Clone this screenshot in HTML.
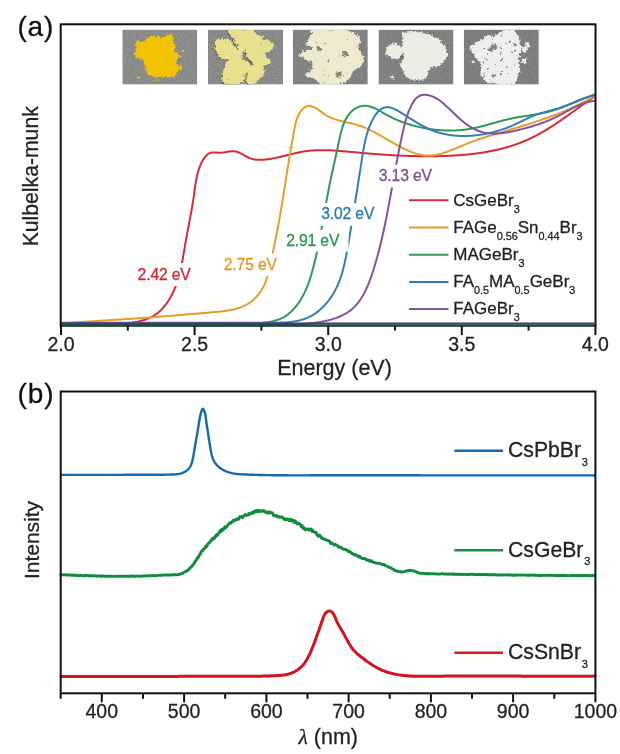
<!DOCTYPE html>
<html><head><meta charset="utf-8"><style>
html,body{margin:0;padding:0;background:#fff;width:620px;height:754px;overflow:hidden}
svg{display:block;filter:blur(0.35px)}
</style></head><body>
<svg width="620" height="754" viewBox="0 0 620 754">
<g style="font-family:'Liberation Sans',Arial,sans-serif">
<defs><filter id="bl0" x="-10%" y="-10%" width="120%" height="120%"><feTurbulence type="fractalNoise" baseFrequency="0.45" numOctaves="2" seed="3" result="n"/><feDisplacementMap in="SourceGraphic" in2="n" scale="4.5" xChannelSelector="R" yChannelSelector="G" result="d"/><feTurbulence type="fractalNoise" baseFrequency="0.22" numOctaves="3" seed="0" result="h"/><feColorMatrix in="h" type="matrix" values="0 0 0 0 0  0 0 0 0 0  0 0 0 0 0  14.0 0 0 0 -0.000" result="m"/><feComposite in="d" in2="m" operator="in" result="c"/><feTurbulence type="fractalNoise" baseFrequency="0.9" numOctaves="1" seed="20" result="t"/><feColorMatrix in="t" type="matrix" values="0 0 0 0 0  0 0 0 0 0  0 0 0 0 0  0 0 0 -0.9 0.55" result="tm"/><feComposite in="tm" in2="c" operator="in" result="tx"/><feFlood flood-color="#000" flood-opacity="0.12"/><feComposite in2="tx" operator="in" result="dark"/><feMerge><feMergeNode in="c"/><feMergeNode in="dark"/></feMerge></filter><filter id="bl1" x="-10%" y="-10%" width="120%" height="120%"><feTurbulence type="fractalNoise" baseFrequency="0.45" numOctaves="2" seed="4" result="n"/><feDisplacementMap in="SourceGraphic" in2="n" scale="4.5" xChannelSelector="R" yChannelSelector="G" result="d"/><feTurbulence type="fractalNoise" baseFrequency="0.22" numOctaves="3" seed="11" result="h"/><feColorMatrix in="h" type="matrix" values="0 0 0 0 0  0 0 0 0 0  0 0 0 0 0  14.0 0 0 0 -1.680" result="m"/><feComposite in="d" in2="m" operator="in" result="c"/><feTurbulence type="fractalNoise" baseFrequency="0.9" numOctaves="1" seed="21" result="t"/><feColorMatrix in="t" type="matrix" values="0 0 0 0 0  0 0 0 0 0  0 0 0 0 0  0 0 0 -0.9 0.55" result="tm"/><feComposite in="tm" in2="c" operator="in" result="tx"/><feFlood flood-color="#000" flood-opacity="0.12"/><feComposite in2="tx" operator="in" result="dark"/><feMerge><feMergeNode in="c"/><feMergeNode in="dark"/></feMerge></filter><filter id="bl2" x="-10%" y="-10%" width="120%" height="120%"><feTurbulence type="fractalNoise" baseFrequency="0.45" numOctaves="2" seed="5" result="n"/><feDisplacementMap in="SourceGraphic" in2="n" scale="4.5" xChannelSelector="R" yChannelSelector="G" result="d"/><feTurbulence type="fractalNoise" baseFrequency="0.22" numOctaves="3" seed="12" result="h"/><feColorMatrix in="h" type="matrix" values="0 0 0 0 0  0 0 0 0 0  0 0 0 0 0  14.0 0 0 0 -2.240" result="m"/><feComposite in="d" in2="m" operator="in" result="c"/><feTurbulence type="fractalNoise" baseFrequency="0.9" numOctaves="1" seed="22" result="t"/><feColorMatrix in="t" type="matrix" values="0 0 0 0 0  0 0 0 0 0  0 0 0 0 0  0 0 0 -0.9 0.55" result="tm"/><feComposite in="tm" in2="c" operator="in" result="tx"/><feFlood flood-color="#000" flood-opacity="0.12"/><feComposite in2="tx" operator="in" result="dark"/><feMerge><feMergeNode in="c"/><feMergeNode in="dark"/></feMerge></filter><filter id="bl3" x="-10%" y="-10%" width="120%" height="120%"><feTurbulence type="fractalNoise" baseFrequency="0.45" numOctaves="2" seed="6" result="n"/><feDisplacementMap in="SourceGraphic" in2="n" scale="4.5" xChannelSelector="R" yChannelSelector="G" result="d"/><feTurbulence type="fractalNoise" baseFrequency="0.22" numOctaves="3" seed="13" result="h"/><feColorMatrix in="h" type="matrix" values="0 0 0 0 0  0 0 0 0 0  0 0 0 0 0  14.0 0 0 0 -1.400" result="m"/><feComposite in="d" in2="m" operator="in" result="c"/><feTurbulence type="fractalNoise" baseFrequency="0.9" numOctaves="1" seed="23" result="t"/><feColorMatrix in="t" type="matrix" values="0 0 0 0 0  0 0 0 0 0  0 0 0 0 0  0 0 0 -0.9 0.55" result="tm"/><feComposite in="tm" in2="c" operator="in" result="tx"/><feFlood flood-color="#000" flood-opacity="0.12"/><feComposite in2="tx" operator="in" result="dark"/><feMerge><feMergeNode in="c"/><feMergeNode in="dark"/></feMerge></filter><filter id="bl4" x="-10%" y="-10%" width="120%" height="120%"><feTurbulence type="fractalNoise" baseFrequency="0.45" numOctaves="2" seed="7" result="n"/><feDisplacementMap in="SourceGraphic" in2="n" scale="4.5" xChannelSelector="R" yChannelSelector="G" result="d"/><feTurbulence type="fractalNoise" baseFrequency="0.22" numOctaves="3" seed="14" result="h"/><feColorMatrix in="h" type="matrix" values="0 0 0 0 0  0 0 0 0 0  0 0 0 0 0  14.0 0 0 0 -3.080" result="m"/><feComposite in="d" in2="m" operator="in" result="c"/><feTurbulence type="fractalNoise" baseFrequency="0.9" numOctaves="1" seed="24" result="t"/><feColorMatrix in="t" type="matrix" values="0 0 0 0 0  0 0 0 0 0  0 0 0 0 0  0 0 0 -0.9 0.55" result="tm"/><feComposite in="tm" in2="c" operator="in" result="tx"/><feFlood flood-color="#000" flood-opacity="0.12"/><feComposite in2="tx" operator="in" result="dark"/><feMerge><feMergeNode in="c"/><feMergeNode in="dark"/></feMerge></filter><filter id="gr" x="0" y="0" width="100%" height="100%"><feTurbulence type="fractalNoise" baseFrequency="0.55" numOctaves="2" seed="7"/><feColorMatrix type="matrix" values="0 0 0 0 0  0 0 0 0 0  0 0 0 0 0  0 0 0 -1.6 1.0"/><feComposite in2="SourceGraphic" operator="in"/></filter></defs>
<clipPath id="cp0"><rect x="122.3" y="29.6" width="75" height="55"/></clipPath><g clip-path="url(#cp0)">
<rect x="122.3" y="29.6" width="75" height="55" fill="#909090"/>
<rect x="122.3" y="29.6" width="75" height="55" fill="#000" filter="url(#gr)" opacity="0.16"/>
<g filter="url(#bl0)"><path d="M146.2,38.7 C147.4,38.3 150.8,36.5 153.5,36.3 C156.1,36.1 159.9,37.6 161.9,37.5 C163.9,37.4 163.9,36.2 165.5,35.7 C167.2,35.1 170.4,33.9 171.6,34.4 C172.8,34.9 172.4,37.4 172.8,38.7 C173.2,40.0 173.6,40.9 174.0,42.3 C174.4,43.7 175.2,45.7 175.2,47.1 C175.2,48.6 173.8,49.8 174.0,50.8 C174.2,51.8 175.6,52.4 176.4,53.2 C177.2,54.0 178.7,54.6 178.9,55.6 C179.1,56.6 178.0,58.0 177.6,59.2 C177.2,60.5 176.2,61.7 176.4,62.9 C176.6,64.1 178.0,65.7 178.9,66.5 C179.7,67.3 181.3,67.1 181.3,67.7 C181.3,68.3 179.7,69.1 178.9,70.1 C178.0,71.1 177.2,72.7 176.4,73.8 C175.6,74.8 175.4,75.6 174.0,76.2 C172.6,76.8 170.0,77.3 168.0,77.4 C165.9,77.5 163.9,76.8 161.9,76.8 C159.9,76.8 157.7,77.5 155.9,77.4 C154.1,77.3 152.4,76.8 151.0,76.2 C149.6,75.6 148.2,74.8 147.4,73.8 C146.6,72.7 146.6,71.3 146.2,70.1 C145.8,68.9 145.4,67.7 145.0,66.5 C144.6,65.3 144.4,64.1 143.8,62.9 C143.2,61.7 142.4,60.0 141.4,59.2 C140.3,58.4 138.7,58.5 137.7,58.0 C136.7,57.5 135.8,57.2 135.3,56.2 C134.8,55.2 134.5,53.5 134.7,52.0 C134.9,50.5 136.3,48.6 136.5,47.1 C136.7,45.7 135.7,44.5 135.9,43.5 C136.1,42.5 136.8,41.3 137.7,41.1 C138.6,40.9 140.1,42.5 141.4,42.3 C142.6,42.1 144.2,40.5 145.0,39.9 C145.8,39.3 146.0,38.9 146.2,38.7 Z" fill="#f4c40c"/><path d="M181.9,49.6 C182.2,49.8 183.6,50.3 183.7,50.8 C183.8,51.2 182.9,52.2 182.5,52.2 C182.0,52.3 181.1,51.6 181.0,51.1 C180.9,50.7 181.7,49.8 181.9,49.6 Z" fill="#f4c40c"/><path d="M178.9,55.0 C179.2,55.1 180.5,55.4 180.7,55.9 C180.8,56.3 180.2,57.4 179.8,57.5 C179.4,57.7 178.4,57.0 178.2,56.6 C178.1,56.2 178.8,55.3 178.9,55.0 Z" fill="#f4c40c"/><path d="M137.7,76.4 C138.1,76.5 139.8,76.7 140.1,77.1 C140.4,77.5 140.0,78.7 139.5,78.8 C139.1,79.0 137.8,78.4 137.5,78.0 C137.2,77.6 137.7,76.7 137.7,76.4 Z" fill="#f4c40c"/><path d="M155.9,79.2 C156.3,79.3 157.9,79.2 158.3,79.6 C158.7,79.9 158.5,81.0 158.0,81.3 C157.6,81.5 156.0,81.4 155.6,81.0 C155.3,80.7 155.8,79.5 155.9,79.2 Z" fill="#f4c40c"/><path d="M179.8,65.3 C180.2,65.5 182.0,65.7 182.2,66.3 C182.5,66.9 181.8,68.6 181.3,68.9 C180.7,69.2 179.3,68.6 179.1,68.0 C178.9,67.3 179.7,65.7 179.8,65.3 Z" fill="#f4c40c"/>
</g></g>
<clipPath id="cp1"><rect x="208.0" y="29.6" width="75" height="55"/></clipPath><g clip-path="url(#cp1)">
<rect x="208.0" y="29.6" width="75" height="55" fill="#8e8e8e"/>
<rect x="208.0" y="29.6" width="75" height="55" fill="#000" filter="url(#gr)" opacity="0.16"/>
<g filter="url(#bl1)" opacity="0.75"><path d="M215.4,40.1 C216.5,39.8 220.0,38.8 222.3,38.7 C224.6,38.6 227.6,38.7 229.2,39.4 C230.8,40.1 230.8,41.3 232.0,42.8 C233.1,44.3 234.8,46.8 236.1,48.4 C237.5,50.0 239.4,50.9 240.3,52.5 C241.2,54.2 242.2,56.7 241.7,58.1 C241.2,59.5 239.2,60.4 237.5,60.9 C235.9,61.3 234.1,61.1 232.0,60.9 C229.9,60.6 227.1,60.2 225.1,59.5 C223.0,58.8 221.0,58.1 219.5,56.7 C218.0,55.3 216.9,53.0 216.1,51.2 C215.3,49.3 214.8,47.5 214.7,45.6 C214.6,43.8 215.3,41.0 215.4,40.1 Z" fill="#5e5a4c" transform="translate(-0.8,0.9)"/><path d="M227.7,29.7 C229.0,29.6 232.9,28.9 235.3,29.0 C237.7,29.1 240.4,30.4 242.2,30.4 C244.1,30.4 244.5,29.0 246.4,29.0 C248.2,29.0 251.5,29.5 253.3,30.4 C255.2,31.3 255.9,33.4 257.5,34.6 C259.1,35.7 262.3,36.2 263.0,37.3 C263.7,38.5 262.5,40.6 261.6,41.5 C260.7,42.4 259.1,42.2 257.5,42.9 C255.9,43.6 253.8,44.7 251.9,45.6 C250.1,46.6 247.8,47.3 246.4,48.4 C245.0,49.6 244.5,51.4 243.6,52.6 C242.7,53.7 241.8,56.0 240.8,55.3 C239.9,54.6 239.0,50.5 238.1,48.4 C237.2,46.3 236.0,44.5 235.3,42.9 C234.6,41.3 234.8,40.1 233.9,38.7 C233.0,37.3 230.8,36.1 229.8,34.6 C228.7,33.1 228.0,30.5 227.7,29.7 Z" fill="#5e5a4c" transform="translate(-0.8,0.9)"/><path d="M248.4,43.8 C250.0,43.4 255.1,41.8 258.1,41.1 C261.1,40.4 264.1,39.5 266.4,39.7 C268.7,39.9 270.6,41.5 271.9,42.5 C273.3,43.4 274.9,43.8 274.7,45.2 C274.5,46.6 272.2,49.4 270.6,50.8 C268.9,52.2 265.7,52.4 265.0,53.5 C264.3,54.7 265.5,56.5 266.4,57.7 C267.3,58.8 270.1,59.3 270.6,60.5 C271.0,61.6 270.6,63.7 269.2,64.6 C267.8,65.5 264.6,65.8 262.2,66.0 C259.9,66.2 257.2,66.7 255.3,66.0 C253.5,65.3 252.5,63.5 251.2,61.8 C249.8,60.2 247.9,58.2 247.0,56.3 C246.1,54.5 245.4,52.8 245.6,50.8 C245.9,48.7 247.9,45.0 248.4,43.8 Z" fill="#5e5a4c" transform="translate(-0.8,0.9)"/><path d="M225.5,62.3 C226.4,61.9 228.7,60.2 231.0,59.5 C233.3,58.9 236.8,57.9 239.3,58.2 C241.9,58.4 244.4,59.8 246.2,60.9 C248.1,62.1 249.9,63.5 250.4,65.1 C250.9,66.7 249.9,69.0 249.0,70.6 C248.1,72.2 245.8,72.9 244.9,74.8 C243.9,76.6 244.9,80.1 243.5,81.7 C242.1,83.3 239.3,84.0 236.5,84.5 C233.8,84.9 229.4,85.2 226.8,84.5 C224.3,83.8 222.0,82.2 221.3,80.3 C220.6,78.5 222.2,75.5 222.7,73.4 C223.2,71.3 223.6,69.7 224.1,67.9 C224.5,66.0 225.2,63.2 225.5,62.3 Z" fill="#5e5a4c" transform="translate(-0.8,0.9)"/><path d="M249.2,67.5 C250.4,66.8 254.1,63.8 256.2,63.3 C258.3,62.8 260.3,63.5 261.7,64.7 C263.1,65.8 264.3,68.4 264.5,70.2 C264.7,72.1 264.0,74.2 263.1,75.8 C262.2,77.4 260.6,78.5 258.9,79.9 C257.3,81.3 255.3,83.4 253.4,84.1 C251.6,84.8 249.0,85.0 247.9,84.1 C246.7,83.2 246.5,80.4 246.5,78.5 C246.5,76.7 247.4,74.8 247.9,73.0 C248.3,71.2 249.0,68.4 249.2,67.5 Z" fill="#5e5a4c" transform="translate(-0.8,0.9)"/></g>
<g filter="url(#bl1)"><path d="M215.4,40.1 C216.5,39.8 220.0,38.8 222.3,38.7 C224.6,38.6 227.6,38.7 229.2,39.4 C230.8,40.1 230.8,41.3 232.0,42.8 C233.1,44.3 234.8,46.8 236.1,48.4 C237.5,50.0 239.4,50.9 240.3,52.5 C241.2,54.2 242.2,56.7 241.7,58.1 C241.2,59.5 239.2,60.4 237.5,60.9 C235.9,61.3 234.1,61.1 232.0,60.9 C229.9,60.6 227.1,60.2 225.1,59.5 C223.0,58.8 221.0,58.1 219.5,56.7 C218.0,55.3 216.9,53.0 216.1,51.2 C215.3,49.3 214.8,47.5 214.7,45.6 C214.6,43.8 215.3,41.0 215.4,40.1 Z" fill="#e9e28e"/><path d="M227.7,29.7 C229.0,29.6 232.9,28.9 235.3,29.0 C237.7,29.1 240.4,30.4 242.2,30.4 C244.1,30.4 244.5,29.0 246.4,29.0 C248.2,29.0 251.5,29.5 253.3,30.4 C255.2,31.3 255.9,33.4 257.5,34.6 C259.1,35.7 262.3,36.2 263.0,37.3 C263.7,38.5 262.5,40.6 261.6,41.5 C260.7,42.4 259.1,42.2 257.5,42.9 C255.9,43.6 253.8,44.7 251.9,45.6 C250.1,46.6 247.8,47.3 246.4,48.4 C245.0,49.6 244.5,51.4 243.6,52.6 C242.7,53.7 241.8,56.0 240.8,55.3 C239.9,54.6 239.0,50.5 238.1,48.4 C237.2,46.3 236.0,44.5 235.3,42.9 C234.6,41.3 234.8,40.1 233.9,38.7 C233.0,37.3 230.8,36.1 229.8,34.6 C228.7,33.1 228.0,30.5 227.7,29.7 Z" fill="#e9e28e"/><path d="M248.4,43.8 C250.0,43.4 255.1,41.8 258.1,41.1 C261.1,40.4 264.1,39.5 266.4,39.7 C268.7,39.9 270.6,41.5 271.9,42.5 C273.3,43.4 274.9,43.8 274.7,45.2 C274.5,46.6 272.2,49.4 270.6,50.8 C268.9,52.2 265.7,52.4 265.0,53.5 C264.3,54.7 265.5,56.5 266.4,57.7 C267.3,58.8 270.1,59.3 270.6,60.5 C271.0,61.6 270.6,63.7 269.2,64.6 C267.8,65.5 264.6,65.8 262.2,66.0 C259.9,66.2 257.2,66.7 255.3,66.0 C253.5,65.3 252.5,63.5 251.2,61.8 C249.8,60.2 247.9,58.2 247.0,56.3 C246.1,54.5 245.4,52.8 245.6,50.8 C245.9,48.7 247.9,45.0 248.4,43.8 Z" fill="#e9e28e"/><path d="M225.5,62.3 C226.4,61.9 228.7,60.2 231.0,59.5 C233.3,58.9 236.8,57.9 239.3,58.2 C241.9,58.4 244.4,59.8 246.2,60.9 C248.1,62.1 249.9,63.5 250.4,65.1 C250.9,66.7 249.9,69.0 249.0,70.6 C248.1,72.2 245.8,72.9 244.9,74.8 C243.9,76.6 244.9,80.1 243.5,81.7 C242.1,83.3 239.3,84.0 236.5,84.5 C233.8,84.9 229.4,85.2 226.8,84.5 C224.3,83.8 222.0,82.2 221.3,80.3 C220.6,78.5 222.2,75.5 222.7,73.4 C223.2,71.3 223.6,69.7 224.1,67.9 C224.5,66.0 225.2,63.2 225.5,62.3 Z" fill="#e9e28e"/><path d="M249.2,67.5 C250.4,66.8 254.1,63.8 256.2,63.3 C258.3,62.8 260.3,63.5 261.7,64.7 C263.1,65.8 264.3,68.4 264.5,70.2 C264.7,72.1 264.0,74.2 263.1,75.8 C262.2,77.4 260.6,78.5 258.9,79.9 C257.3,81.3 255.3,83.4 253.4,84.1 C251.6,84.8 249.0,85.0 247.9,84.1 C246.7,83.2 246.5,80.4 246.5,78.5 C246.5,76.7 247.4,74.8 247.9,73.0 C248.3,71.2 249.0,68.4 249.2,67.5 Z" fill="#e9e28e"/>
</g></g>
<clipPath id="cp2"><rect x="292.8" y="29.6" width="75" height="55"/></clipPath><g clip-path="url(#cp2)">
<rect x="292.8" y="29.6" width="75" height="55" fill="#878787"/>
<rect x="292.8" y="29.6" width="75" height="55" fill="#000" filter="url(#gr)" opacity="0.16"/>
<g filter="url(#bl2)"><path d="M310.6,30.2 C312.7,30.0 319.3,29.0 323.0,29.0 C326.8,29.0 330.3,30.2 333.0,30.2 C335.7,30.2 336.9,29.0 339.2,29.0 C341.5,29.0 344.2,29.6 346.6,30.2 C349.1,30.9 352.0,31.7 354.1,32.7 C356.2,33.8 358.0,35.0 359.1,36.5 C360.1,37.9 360.5,39.8 360.3,41.4 C360.1,43.1 358.0,44.9 357.8,46.4 C357.6,47.8 358.4,48.9 359.1,50.1 C359.7,51.4 360.7,52.4 361.5,53.8 C362.4,55.3 363.8,57.2 364.0,58.8 C364.2,60.5 363.6,62.3 362.8,63.8 C362.0,65.2 360.5,66.5 359.1,67.5 C357.6,68.5 355.3,68.7 354.1,70.0 C352.9,71.2 352.6,73.3 351.6,75.0 C350.6,76.6 349.5,78.5 347.9,79.9 C346.2,81.4 344.2,82.8 341.7,83.6 C339.2,84.5 335.9,84.7 333.0,84.9 C330.1,85.1 326.8,85.3 324.3,84.9 C321.8,84.5 319.7,83.4 318.1,82.4 C316.4,81.4 316.0,79.5 314.4,78.7 C312.7,77.8 309.6,78.1 308.1,77.4 C306.7,76.8 305.5,76.0 305.7,75.0 C305.9,73.9 308.1,72.3 309.4,71.2 C310.6,70.2 312.7,69.8 313.1,68.7 C313.5,67.7 312.7,66.3 311.9,65.0 C311.0,63.8 309.6,62.5 308.1,61.3 C306.7,60.0 304.8,58.5 303.2,57.6 C301.5,56.6 298.6,56.5 298.2,55.7 C297.8,54.9 299.2,53.5 300.7,52.6 C302.1,51.7 305.0,50.7 306.9,50.1 C308.8,49.5 311.2,49.5 311.9,48.9 C312.5,48.2 311.7,47.0 310.6,46.4 C309.6,45.8 306.3,46.0 305.7,45.1 C305.0,44.3 306.3,42.7 306.9,41.4 C307.5,40.2 308.8,38.9 309.4,37.7 C310.0,36.5 310.4,35.2 310.6,34.0 C310.8,32.7 310.6,30.9 310.6,30.2 Z" fill="#eeebd0"/>
<path d="M315.6,47.6 C316.1,47.5 317.7,46.8 318.7,47.0 C319.7,47.2 321.4,48.2 321.8,48.9 C322.2,49.5 321.9,50.5 321.2,50.7 C320.5,51.0 318.4,50.9 317.5,50.4 C316.5,49.8 315.9,48.1 315.6,47.6 Z" fill="#6e6c62" opacity="0.8"/>
<path d="M341.7,51.4 C342.3,51.3 344.2,50.6 345.4,51.1 C346.6,51.6 348.6,53.5 349.1,54.5 C349.6,55.4 349.2,56.4 348.5,56.6 C347.8,56.8 345.9,56.6 344.8,55.7 C343.6,54.8 342.2,52.1 341.7,51.4 Z" fill="#6e6c62" opacity="0.8"/>
<path d="M335.5,73.7 C336.0,73.4 337.5,72.1 338.6,71.8 C339.6,71.6 341.4,71.6 341.7,72.5 C342.0,73.3 341.3,76.0 340.4,76.8 C339.6,77.6 337.5,78.0 336.7,77.4 C335.9,76.9 335.7,74.3 335.5,73.7 Z" fill="#6e6c62" opacity="0.8"/>
<path d="M309.4,60.0 C309.8,60.3 311.4,60.7 311.9,61.5 C312.4,62.4 312.7,64.5 312.5,65.0 C312.3,65.5 311.1,65.2 310.6,64.4 C310.1,63.6 309.6,60.8 309.4,60.0 Z" fill="#6e6c62" opacity="0.8"/>
</g></g>
<clipPath id="cp3"><rect x="378.5" y="29.6" width="75" height="55"/></clipPath><g clip-path="url(#cp3)">
<rect x="378.5" y="29.6" width="75" height="55" fill="#868686"/>
<rect x="378.5" y="29.6" width="75" height="55" fill="#000" filter="url(#gr)" opacity="0.16"/>
<g filter="url(#bl3)"><path d="M402.8,32.7 C404.1,32.6 407.8,32.3 410.3,32.1 C412.8,31.9 415.7,31.4 417.7,31.5 C419.8,31.6 421.1,32.3 422.7,32.7 C424.4,33.1 425.8,33.3 427.7,34.0 C429.5,34.6 431.8,35.4 433.9,36.5 C436.0,37.5 438.4,38.7 440.1,40.2 C441.8,41.6 442.8,43.5 443.8,45.1 C444.9,46.8 445.7,48.5 446.3,50.1 C446.9,51.8 447.8,53.4 447.5,55.1 C447.3,56.7 446.1,58.6 445.1,60.0 C444.0,61.5 442.6,62.7 441.3,63.8 C440.1,64.8 439.1,65.6 437.6,66.3 C436.2,66.9 434.1,66.9 432.6,67.5 C431.2,68.1 429.7,68.7 428.9,70.0 C428.1,71.2 428.3,73.5 427.7,75.0 C427.1,76.4 426.4,77.8 425.2,78.7 C424.0,79.5 422.1,79.7 420.2,79.9 C418.4,80.1 415.9,80.1 414.0,79.9 C412.2,79.7 410.5,79.5 409.0,78.7 C407.6,77.8 406.4,76.4 405.3,75.0 C404.3,73.5 403.7,71.6 402.8,70.0 C402.0,68.3 400.6,66.5 400.4,65.0 C400.1,63.6 401.0,62.5 401.6,61.3 C402.2,60.0 403.9,59.0 404.1,57.6 C404.3,56.1 403.3,54.3 402.8,52.6 C402.4,50.9 401.6,49.5 401.6,47.6 C401.6,45.8 402.7,43.3 402.8,41.4 C402.9,39.6 402.2,37.9 402.2,36.5 C402.2,35.0 402.7,33.3 402.8,32.7 Z" fill="#efeee6"/><path d="M385.5,50.1 C385.9,49.5 386.9,47.4 387.9,46.4 C389.0,45.4 390.2,44.3 391.7,43.9 C393.1,43.5 395.2,43.5 396.6,43.9 C398.1,44.3 399.3,45.4 400.4,46.4 C401.4,47.4 402.6,48.7 402.8,50.1 C403.0,51.6 402.2,53.6 401.6,55.1 C401.0,56.5 400.4,58.2 399.1,58.8 C397.9,59.4 395.8,59.2 394.1,58.8 C392.5,58.4 390.6,57.2 389.2,56.3 C387.7,55.5 386.1,54.9 385.5,53.8 C384.8,52.8 385.5,50.7 385.5,50.1 Z" fill="#efeee6"/><path d="M390.4,75.9 C390.9,76.1 392.9,76.4 393.5,76.8 C394.1,77.3 394.6,78.5 394.1,78.7 C393.7,78.9 391.7,78.5 391.0,78.1 C390.4,77.6 390.5,76.3 390.4,75.9 Z" fill="#efeee6"/>
<path d="M401.0,53.8 C401.3,53.9 402.6,53.7 402.8,54.5 C403.1,55.2 402.9,57.7 402.6,58.2 C402.3,58.7 401.2,58.3 401.0,57.6 C400.7,56.8 401.0,54.5 401.0,53.8 Z" fill="#6e6c62" opacity="0.8"/>
</g></g>
<clipPath id="cp4"><rect x="463.8" y="29.6" width="75" height="55"/></clipPath><g clip-path="url(#cp4)">
<rect x="463.8" y="29.6" width="75" height="55" fill="#838383"/>
<rect x="463.8" y="29.6" width="75" height="55" fill="#000" filter="url(#gr)" opacity="0.16"/>
<g filter="url(#bl4)"><path d="M469.2,46.4 C470.2,45.8 473.6,43.7 475.4,42.7 C477.3,41.6 478.3,41.4 480.4,40.2 C482.5,38.9 485.8,35.8 487.8,35.2 C489.9,34.6 490.9,36.9 492.8,36.5 C494.7,36.0 497.2,33.8 499.0,32.7 C500.9,31.7 501.7,30.8 504.0,30.2 C506.3,29.7 510.6,29.2 512.7,29.6 C514.7,30.0 515.4,31.4 516.4,32.7 C517.4,34.1 518.3,36.0 518.9,37.7 C519.5,39.3 519.7,41.0 520.1,42.7 C520.5,44.3 521.4,45.8 521.4,47.6 C521.4,49.5 520.5,51.6 520.1,53.8 C519.7,56.1 518.9,58.8 518.9,61.3 C518.9,63.8 520.3,66.3 520.1,68.7 C519.9,71.2 518.3,74.1 517.6,76.2 C517.0,78.3 517.2,79.8 516.4,81.2 C515.6,82.5 514.7,83.6 512.7,84.3 C510.6,84.9 506.7,85.0 504.0,84.9 C501.3,84.8 498.8,84.1 496.5,83.6 C494.3,83.2 492.2,82.8 490.3,82.4 C488.5,82.0 486.8,82.2 485.4,81.2 C483.9,80.1 482.5,77.8 481.6,76.2 C480.8,74.5 480.4,72.9 480.4,71.2 C480.4,69.6 481.8,67.9 481.6,66.3 C481.4,64.6 480.2,62.7 479.1,61.3 C478.1,59.8 476.5,58.8 475.4,57.6 C474.4,56.3 473.8,55.1 472.9,53.8 C472.1,52.6 471.1,51.4 470.5,50.1 C469.8,48.9 469.4,47.0 469.2,46.4 Z" fill="#f0f0ee"/><path d="M521.4,48.9 C522.0,48.5 524.1,46.6 525.1,46.4 C526.1,46.2 527.4,46.8 527.6,47.6 C527.8,48.5 527.0,50.5 526.3,51.4 C525.7,52.2 524.7,53.0 523.9,52.6 C523.0,52.2 521.8,49.5 521.4,48.9 Z" fill="#f0f0ee"/><path d="M522.6,58.8 C523.2,58.8 525.9,58.0 526.3,58.8 C526.8,59.6 525.9,63.2 525.1,63.8 C524.3,64.4 521.8,63.4 521.4,62.5 C521.0,61.7 522.4,59.4 522.6,58.8 Z" fill="#f0f0ee"/><path d="M525.1,41.4 C525.7,41.6 528.0,41.8 528.8,42.7 C529.7,43.5 530.3,45.7 530.1,46.4 C529.9,47.1 528.4,47.8 527.6,47.0 C526.8,46.2 525.5,42.4 525.1,41.4 Z" fill="#f0f0ee"/><path d="M471.7,60.7 C472.0,60.6 473.1,59.7 473.6,60.0 C474.0,60.4 474.4,62.1 474.2,62.5 C473.9,63.0 472.4,63.1 471.9,62.8 C471.5,62.5 471.7,61.0 471.7,60.7 Z" fill="#f0f0ee"/>
<path d="M487.8,50.1 C488.5,49.3 490.2,46.3 491.6,45.1 C492.9,44.0 495.0,43.1 495.9,43.3 C496.8,43.5 497.6,45.2 497.2,46.4 C496.7,47.5 494.7,49.2 493.4,50.1 C492.2,51.0 490.6,52.0 489.7,52.0 C488.8,52.0 488.1,50.4 487.8,50.1 Z" fill="#6e6c62" opacity="0.8"/>
<path d="M491.6,75.0 C492.1,74.9 494.1,74.4 494.7,74.7 C495.2,75.0 495.5,76.4 495.0,76.8 C494.6,77.2 492.8,77.5 492.2,77.2 C491.6,76.9 491.7,75.3 491.6,75.0 Z" fill="#6e6c62" opacity="0.8"/>
<path d="M485.4,58.8 C485.7,58.8 486.8,58.2 487.2,58.6 C487.6,58.9 487.9,60.3 487.6,60.7 C487.3,61.0 486.0,61.1 485.6,60.8 C485.2,60.5 485.4,59.1 485.4,58.8 Z" fill="#6e6c62" opacity="0.8"/>
<path d="M500.3,52.6 C500.5,52.6 501.5,52.1 501.7,52.3 C502.0,52.6 502.2,53.5 502.0,53.8 C501.7,54.1 500.5,54.3 500.3,54.1 C500.0,53.9 500.3,52.8 500.3,52.6 Z" fill="#6e6c62" opacity="0.8"/>
<path d="M512.7,43.9 C513.0,43.9 514.2,43.4 514.5,43.7 C514.9,43.9 514.9,45.1 514.7,45.4 C514.4,45.7 513.3,45.8 512.9,45.5 C512.6,45.3 512.7,44.2 512.7,43.9 Z" fill="#6e6c62" opacity="0.8"/>
</g></g>
<g fill="none" stroke-width="2" stroke-linejoin="round" stroke-linecap="round">
<path d="M60.78,323.67 L61.63,323.65 L62.48,323.64 L63.32,323.62 L64.16,323.61 L65.00,323.59 L65.84,323.58 L66.67,323.57 L67.49,323.56 L68.32,323.55 L69.14,323.54 L69.96,323.53 L70.77,323.53 L71.58,323.52 L72.39,323.51 L73.20,323.51 L74.01,323.51 L74.81,323.50 L75.61,323.50 L76.41,323.50 L77.20,323.50 L78.00,323.50 L78.79,323.50 L79.58,323.50 L80.37,323.50 L81.16,323.50 L81.94,323.50 L82.73,323.50 L83.51,323.50 L84.29,323.51 L85.08,323.51 L85.86,323.51 L86.64,323.52 L87.42,323.52 L88.20,323.52 L88.97,323.53 L89.75,323.53 L90.53,323.54 L91.31,323.54 L92.09,323.55 L92.87,323.55 L93.65,323.55 L94.43,323.56 L95.21,323.56 L95.99,323.57 L96.77,323.57 L97.55,323.57 L98.33,323.58 L99.12,323.58 L99.90,323.59 L100.69,323.59 L101.48,323.59 L102.27,323.59 L103.06,323.59 L103.85,323.60 L104.64,323.60 L105.44,323.60 L106.24,323.60 L107.04,323.60 L107.84,323.60 L108.65,323.60 L109.45,323.59 L110.26,323.59 L111.08,323.59 L111.89,323.58 L112.71,323.58 L113.53,323.57 L114.35,323.56 L115.17,323.55 L115.99,323.54 L116.82,323.52 L117.64,323.50 L118.47,323.48 L119.30,323.46 L120.12,323.43 L120.95,323.40 L121.78,323.37 L122.61,323.33 L123.43,323.29 L124.26,323.24 L125.08,323.19 L125.91,323.13 L126.73,323.07 L127.55,323.00 L128.37,322.93 L129.19,322.85 L130.01,322.77 L130.82,322.68 L131.63,322.58 L132.44,322.48 L133.25,322.37 L134.05,322.25 L134.85,322.13 L135.65,322.00 L136.44,321.86 L137.23,321.71 L138.02,321.55 L138.80,321.39 L139.58,321.22 L140.35,321.04 L141.12,320.84 L141.88,320.64 L142.64,320.43 L143.40,320.21 L144.14,319.99 L144.89,319.75 L145.62,319.50 L146.35,319.23 L147.08,318.96 L147.80,318.68 L148.51,318.39 L149.21,318.08 L149.91,317.76 L150.60,317.43 L151.28,317.09 L151.96,316.74 L152.62,316.37 L153.28,315.99 L153.93,315.60 L154.58,315.19 L155.21,314.77 L155.84,314.34 L156.46,313.89 L157.07,313.43 L157.67,312.96 L158.26,312.48 L158.84,311.98 L159.42,311.47 L159.99,310.96 L160.55,310.43 L161.10,309.89 L161.65,309.33 L162.18,308.77 L162.71,308.20 L163.23,307.62 L163.74,307.03 L164.25,306.43 L164.75,305.82 L165.24,305.20 L165.72,304.57 L166.19,303.93 L166.66,303.29 L167.12,302.63 L167.57,301.97 L168.01,301.31 L168.45,300.63 L168.88,299.95 L169.30,299.26 L169.72,298.57 L170.12,297.86 L170.52,297.16 L170.92,296.44 L171.30,295.73 L171.68,295.00 L172.05,294.27 L172.42,293.54 L172.78,292.80 L173.13,292.06 L173.47,291.32 L173.81,290.57 L174.14,289.81 L174.46,289.06 L174.78,288.30 L175.09,287.54 L175.39,286.77 L175.69,286.01 L175.98,285.24 L176.27,284.47 L176.55,283.70 L176.82,282.92 L177.08,282.15 L177.34,281.37 L177.59,280.60 L177.84,279.82 L178.08,279.05 L178.32,278.27 L178.54,277.50 L178.77,276.72 L178.99,275.94 L179.20,275.16 L179.41,274.39 L179.61,273.61 L179.81,272.83 L180.00,272.05 L180.19,271.27 L180.38,270.49 L180.56,269.71 L180.74,268.93 L180.91,268.15 L181.08,267.37 L181.25,266.59 L181.41,265.81 L181.57,265.03 L181.72,264.25 L181.88,263.47 L182.03,262.69 L182.18,261.91 L182.32,261.13 L182.47,260.35 L182.61,259.57 L182.75,258.79 L182.89,258.01 L183.03,257.23 L183.16,256.44 L183.29,255.66 L183.43,254.88 L183.56,254.10 L183.69,253.32 L183.82,252.54 L183.95,251.76 L184.08,250.98 L184.21,250.20 L184.34,249.42 L184.47,248.64 L184.60,247.86 L184.73,247.08 L184.86,246.30 L184.99,245.52 L185.12,244.75 L185.25,243.97 L185.39,243.19 L185.52,242.41 L185.66,241.63 L185.80,240.86 L185.94,240.08 L186.08,239.30 L186.22,238.53 L186.36,237.75 L186.50,236.97 L186.65,236.20 L186.79,235.42 L186.94,234.64 L187.08,233.87 L187.23,233.09 L187.38,232.31 L187.52,231.54 L187.67,230.76 L187.82,229.98 L187.97,229.21 L188.12,228.43 L188.27,227.65 L188.42,226.87 L188.57,226.10 L188.72,225.32 L188.87,224.54 L189.02,223.76 L189.17,222.98 L189.32,222.20 L189.47,221.42 L189.62,220.64 L189.77,219.85 L189.91,219.07 L190.06,218.29 L190.21,217.50 L190.36,216.72 L190.50,215.93 L190.65,215.15 L190.79,214.36 L190.94,213.57 L191.08,212.79 L191.22,212.00 L191.37,211.21 L191.51,210.41 L191.65,209.62 L191.79,208.83 L191.92,208.04 L192.06,207.24 L192.19,206.44 L192.33,205.65 L192.46,204.85 L192.59,204.05 L192.72,203.25 L192.85,202.45 L192.97,201.64 L193.10,200.84 L193.22,200.03 L193.34,199.23 L193.46,198.42 L193.58,197.61 L193.69,196.80 L193.81,195.99 L193.92,195.17 L194.03,194.36 L194.14,193.54 L194.25,192.73 L194.36,191.91 L194.47,191.09 L194.58,190.28 L194.69,189.46 L194.80,188.65 L194.92,187.83 L195.03,187.02 L195.15,186.21 L195.27,185.40 L195.39,184.59 L195.51,183.78 L195.64,182.97 L195.78,182.17 L195.91,181.37 L196.05,180.57 L196.20,179.77 L196.35,178.98 L196.50,178.19 L196.66,177.40 L196.83,176.62 L197.00,175.84 L197.18,175.07 L197.36,174.29 L197.55,173.53 L197.75,172.77 L197.96,172.01 L198.18,171.25 L198.40,170.51 L198.63,169.76 L198.87,169.03 L199.12,168.30 L199.38,167.57 L199.65,166.85 L199.93,166.14 L200.22,165.43 L200.52,164.73 L200.83,164.04 L201.16,163.35 L201.49,162.68 L201.84,162.00 L202.20,161.34 L202.57,160.69 L202.96,160.04 L203.36,159.40 L203.77,158.77 L204.19,158.15 L204.64,157.54 L205.09,156.95 L205.57,156.38 L206.06,155.83 L206.58,155.31 L207.12,154.83 L207.67,154.37 L208.26,153.96 L208.87,153.59 L209.50,153.26 L210.16,152.99 L210.86,152.77 L211.58,152.60 L212.33,152.50 L213.12,152.45 L213.92,152.45 L214.75,152.48 L215.59,152.53 L216.45,152.60 L217.31,152.66 L218.18,152.72 L219.04,152.75 L219.89,152.75 L220.74,152.73 L221.59,152.67 L222.42,152.59 L223.25,152.49 L224.07,152.38 L224.89,152.26 L225.70,152.13 L226.50,151.99 L227.30,151.86 L228.10,151.73 L228.89,151.61 L229.67,151.50 L230.45,151.41 L231.22,151.34 L231.99,151.29 L232.75,151.27 L233.51,151.29 L234.27,151.33 L235.02,151.42 L235.77,151.56 L236.52,151.73 L237.26,151.95 L238.00,152.21 L238.73,152.50 L239.47,152.82 L240.20,153.16 L240.94,153.53 L241.67,153.91 L242.40,154.31 L243.13,154.72 L243.86,155.13 L244.59,155.54 L245.32,155.95 L246.06,156.36 L246.79,156.75 L247.53,157.13 L248.27,157.49 L249.01,157.83 L249.76,158.14 L250.51,158.42 L251.26,158.67 L252.02,158.90 L252.78,159.10 L253.54,159.27 L254.30,159.42 L255.07,159.54 L255.84,159.65 L256.61,159.73 L257.38,159.79 L258.15,159.83 L258.93,159.86 L259.71,159.87 L260.48,159.86 L261.26,159.84 L262.04,159.81 L262.82,159.77 L263.59,159.71 L264.37,159.65 L265.15,159.57 L265.93,159.49 L266.71,159.40 L267.48,159.30 L268.26,159.20 L269.04,159.09 L269.81,158.97 L270.59,158.84 L271.36,158.71 L272.14,158.57 L272.91,158.43 L273.69,158.28 L274.46,158.13 L275.24,157.97 L276.01,157.81 L276.79,157.64 L277.56,157.47 L278.34,157.30 L279.11,157.12 L279.89,156.94 L280.66,156.76 L281.44,156.58 L282.21,156.39 L282.99,156.20 L283.76,156.01 L284.54,155.82 L285.31,155.63 L286.09,155.43 L286.86,155.24 L287.64,155.05 L288.41,154.85 L289.19,154.66 L289.97,154.47 L290.74,154.28 L291.52,154.09 L292.30,153.90 L293.08,153.71 L293.85,153.53 L294.63,153.35 L295.41,153.17 L296.19,152.99 L296.97,152.82 L297.75,152.65 L298.53,152.49 L299.31,152.33 L300.09,152.17 L300.88,152.02 L301.66,151.87 L302.44,151.73 L303.23,151.60 L304.01,151.47 L304.80,151.35 L305.58,151.23 L306.37,151.12 L307.16,151.02 L307.94,150.92 L308.73,150.83 L309.52,150.74 L310.31,150.67 L311.10,150.59 L311.89,150.53 L312.68,150.47 L313.47,150.41 L314.27,150.36 L315.06,150.32 L315.85,150.28 L316.65,150.24 L317.44,150.22 L318.24,150.19 L319.03,150.17 L319.83,150.16 L320.62,150.15 L321.42,150.14 L322.22,150.14 L323.01,150.14 L323.81,150.15 L324.61,150.16 L325.41,150.18 L326.20,150.19 L327.00,150.22 L327.80,150.24 L328.60,150.27 L329.40,150.30 L330.20,150.34 L331.00,150.37 L331.80,150.42 L332.60,150.46 L333.40,150.51 L334.20,150.55 L335.00,150.61 L335.80,150.66 L336.60,150.71 L337.40,150.77 L338.21,150.83 L339.01,150.89 L339.81,150.96 L340.61,151.02 L341.41,151.09 L342.21,151.15 L343.01,151.22 L343.82,151.29 L344.62,151.36 L345.42,151.44 L346.22,151.51 L347.02,151.58 L347.82,151.65 L348.62,151.73 L349.42,151.80 L350.23,151.88 L351.03,151.95 L351.83,152.03 L352.63,152.10 L353.43,152.17 L354.23,152.25 L355.03,152.32 L355.83,152.39 L356.63,152.47 L357.43,152.54 L358.23,152.61 L359.02,152.68 L359.82,152.75 L360.62,152.82 L361.42,152.89 L362.22,152.96 L363.02,153.03 L363.82,153.10 L364.61,153.17 L365.41,153.23 L366.21,153.30 L367.01,153.37 L367.81,153.43 L368.60,153.50 L369.40,153.56 L370.20,153.63 L371.00,153.69 L371.79,153.76 L372.59,153.82 L373.39,153.88 L374.18,153.94 L374.98,154.00 L375.78,154.06 L376.57,154.12 L377.37,154.18 L378.17,154.24 L378.96,154.30 L379.76,154.36 L380.56,154.41 L381.35,154.47 L382.15,154.53 L382.94,154.58 L383.74,154.63 L384.54,154.69 L385.33,154.74 L386.13,154.79 L386.92,154.84 L387.72,154.89 L388.51,154.94 L389.31,154.99 L390.11,155.04 L390.90,155.09 L391.70,155.13 L392.49,155.18 L393.29,155.23 L394.08,155.27 L394.88,155.31 L395.67,155.35 L396.47,155.40 L397.27,155.44 L398.06,155.48 L398.86,155.52 L399.65,155.55 L400.45,155.59 L401.24,155.63 L402.04,155.66 L402.83,155.70 L403.63,155.73 L404.43,155.76 L405.22,155.80 L406.02,155.83 L406.81,155.86 L407.61,155.88 L408.40,155.91 L409.20,155.94 L410.00,155.96 L410.79,155.99 L411.59,156.01 L412.38,156.04 L413.18,156.06 L413.98,156.08 L414.77,156.10 L415.57,156.12 L416.37,156.13 L417.16,156.15 L417.96,156.16 L418.75,156.18 L419.55,156.19 L420.35,156.20 L421.15,156.21 L421.94,156.22 L422.74,156.23 L423.54,156.24 L424.33,156.25 L425.13,156.25 L425.93,156.25 L426.73,156.26 L427.53,156.26 L428.32,156.26 L429.12,156.26 L429.92,156.25 L430.72,156.25 L431.52,156.24 L432.31,156.24 L433.11,156.23 L433.91,156.22 L434.71,156.21 L435.51,156.20 L436.31,156.19 L437.11,156.17 L437.91,156.16 L438.71,156.14 L439.51,156.12 L440.31,156.10 L441.11,156.08 L441.91,156.06 L442.71,156.04 L443.51,156.01 L444.31,155.98 L445.11,155.96 L445.92,155.93 L446.72,155.90 L447.52,155.86 L448.32,155.83 L449.12,155.79 L449.92,155.76 L450.73,155.72 L451.53,155.68 L452.33,155.63 L453.13,155.59 L453.93,155.54 L454.74,155.50 L455.54,155.45 L456.34,155.40 L457.14,155.34 L457.94,155.29 L458.74,155.23 L459.54,155.17 L460.34,155.11 L461.15,155.05 L461.95,154.99 L462.75,154.92 L463.55,154.85 L464.35,154.78 L465.15,154.71 L465.95,154.63 L466.75,154.56 L467.54,154.48 L468.34,154.40 L469.14,154.32 L469.94,154.23 L470.74,154.14 L471.53,154.05 L472.33,153.96 L473.13,153.87 L473.92,153.77 L474.72,153.67 L475.51,153.57 L476.31,153.46 L477.10,153.36 L477.90,153.25 L478.69,153.14 L479.48,153.02 L480.27,152.91 L481.06,152.79 L481.86,152.67 L482.65,152.54 L483.43,152.42 L484.22,152.29 L485.01,152.15 L485.80,152.02 L486.59,151.88 L487.37,151.74 L488.16,151.60 L488.94,151.45 L489.73,151.30 L490.51,151.15 L491.29,151.00 L492.07,150.84 L492.86,150.68 L493.64,150.52 L494.41,150.35 L495.19,150.18 L495.97,150.01 L496.75,149.83 L497.52,149.66 L498.30,149.47 L499.07,149.29 L499.84,149.10 L500.62,148.91 L501.39,148.72 L502.16,148.52 L502.93,148.32 L503.69,148.12 L504.46,147.91 L505.23,147.70 L505.99,147.48 L506.75,147.27 L507.52,147.05 L508.28,146.82 L509.04,146.60 L509.80,146.37 L510.55,146.13 L511.31,145.89 L512.07,145.65 L512.82,145.41 L513.57,145.16 L514.33,144.91 L515.08,144.65 L515.83,144.39 L516.57,144.13 L517.32,143.86 L518.06,143.59 L518.81,143.32 L519.55,143.04 L520.29,142.76 L521.03,142.47 L521.77,142.18 L522.51,141.89 L523.24,141.59 L523.98,141.29 L524.71,140.99 L525.44,140.68 L526.17,140.36 L526.90,140.05 L527.62,139.73 L528.35,139.40 L529.07,139.07 L529.79,138.74 L530.51,138.40 L531.23,138.06 L531.95,137.71 L532.66,137.36 L533.38,137.01 L534.09,136.65 L534.80,136.29 L535.51,135.92 L536.21,135.55 L536.92,135.18 L537.63,134.81 L538.33,134.43 L539.03,134.04 L539.73,133.66 L540.43,133.27 L541.13,132.87 L541.82,132.48 L542.52,132.08 L543.21,131.67 L543.90,131.27 L544.59,130.86 L545.28,130.45 L545.97,130.04 L546.66,129.62 L547.34,129.20 L548.03,128.78 L548.71,128.35 L549.39,127.93 L550.07,127.50 L550.75,127.07 L551.43,126.63 L552.11,126.20 L552.79,125.76 L553.46,125.32 L554.14,124.88 L554.81,124.44 L555.48,123.99 L556.15,123.54 L556.82,123.10 L557.49,122.65 L558.16,122.19 L558.83,121.74 L559.49,121.29 L560.16,120.83 L560.83,120.37 L561.49,119.92 L562.15,119.46 L562.81,119.00 L563.48,118.53 L564.14,118.07 L564.80,117.61 L565.46,117.15 L566.11,116.68 L566.77,116.22 L567.43,115.75 L568.09,115.28 L568.74,114.82 L569.40,114.35 L570.05,113.88 L570.70,113.42 L571.36,112.95 L572.01,112.48 L572.66,112.01 L573.31,111.55 L573.96,111.08 L574.62,110.61 L575.27,110.14 L575.91,109.68 L576.56,109.21 L577.21,108.75 L577.86,108.28 L578.51,107.82 L579.16,107.35 L579.80,106.89 L580.45,106.43 L581.10,105.97 L581.74,105.51 L582.39,105.05 L583.03,104.59 L583.68,104.13 L584.32,103.67 L584.97,103.22 L585.61,102.77 L586.26,102.31 L586.90,101.86 L587.55,101.41 L588.19,100.97 L588.83,100.52 L589.48,100.08 L590.12,99.64 L590.77,99.20 L591.41,98.76 L592.05,98.32 L592.70,97.89 L593.34,97.46 L593.98,97.03 L594.63,96.60" stroke="#dc2a35"/>
<path d="M61.12,323.45 L61.90,323.39 L62.69,323.33 L63.47,323.27 L64.26,323.22 L65.05,323.16 L65.84,323.10 L66.62,323.04 L67.41,322.99 L68.20,322.93 L68.99,322.87 L69.78,322.82 L70.57,322.76 L71.36,322.70 L72.15,322.65 L72.94,322.59 L73.74,322.54 L74.53,322.48 L75.32,322.43 L76.11,322.37 L76.91,322.32 L77.70,322.26 L78.49,322.21 L79.29,322.15 L80.08,322.10 L80.88,322.05 L81.67,321.99 L82.47,321.94 L83.27,321.88 L84.06,321.83 L84.86,321.78 L85.65,321.72 L86.45,321.67 L87.25,321.62 L88.05,321.56 L88.84,321.51 L89.64,321.46 L90.44,321.41 L91.24,321.35 L92.04,321.30 L92.84,321.25 L93.64,321.20 L94.43,321.14 L95.23,321.09 L96.03,321.04 L96.83,320.99 L97.63,320.93 L98.43,320.88 L99.23,320.83 L100.03,320.78 L100.84,320.73 L101.64,320.67 L102.44,320.62 L103.24,320.57 L104.04,320.52 L104.84,320.47 L105.64,320.42 L106.44,320.36 L107.24,320.31 L108.05,320.26 L108.85,320.21 L109.65,320.16 L110.45,320.10 L111.25,320.05 L112.06,320.00 L112.86,319.95 L113.66,319.90 L114.46,319.85 L115.26,319.79 L116.07,319.74 L116.87,319.69 L117.67,319.64 L118.47,319.58 L119.27,319.53 L120.08,319.48 L120.88,319.43 L121.68,319.38 L122.48,319.32 L123.28,319.27 L124.08,319.22 L124.89,319.16 L125.69,319.11 L126.49,319.06 L127.29,319.01 L128.09,318.95 L128.89,318.90 L129.69,318.85 L130.50,318.79 L131.30,318.74 L132.10,318.68 L132.90,318.63 L133.70,318.58 L134.50,318.52 L135.30,318.47 L136.10,318.41 L136.90,318.36 L137.70,318.30 L138.50,318.25 L139.30,318.19 L140.10,318.14 L140.90,318.08 L141.69,318.03 L142.49,317.97 L143.29,317.91 L144.09,317.86 L144.89,317.80 L145.68,317.74 L146.48,317.69 L147.28,317.63 L148.08,317.57 L148.87,317.51 L149.67,317.46 L150.46,317.40 L151.26,317.34 L152.05,317.28 L152.85,317.22 L153.64,317.16 L154.44,317.10 L155.23,317.05 L156.03,316.99 L156.82,316.93 L157.61,316.87 L158.40,316.80 L159.20,316.74 L159.99,316.68 L160.78,316.62 L161.57,316.56 L162.36,316.50 L163.15,316.44 L163.94,316.37 L164.73,316.31 L165.52,316.25 L166.31,316.18 L167.10,316.12 L167.89,316.06 L168.68,315.99 L169.46,315.93 L170.25,315.86 L171.04,315.80 L171.83,315.73 L172.61,315.67 L173.40,315.60 L174.19,315.54 L174.98,315.47 L175.76,315.40 L176.55,315.34 L177.34,315.27 L178.13,315.20 L178.92,315.14 L179.70,315.07 L180.49,315.00 L181.28,314.94 L182.07,314.87 L182.86,314.80 L183.65,314.73 L184.44,314.67 L185.23,314.60 L186.02,314.53 L186.81,314.46 L187.60,314.40 L188.39,314.33 L189.19,314.26 L189.98,314.19 L190.77,314.12 L191.57,314.06 L192.36,313.99 L193.16,313.92 L193.95,313.85 L194.75,313.78 L195.55,313.72 L196.35,313.65 L197.15,313.58 L197.95,313.51 L198.75,313.44 L199.55,313.38 L200.35,313.31 L201.15,313.24 L201.96,313.17 L202.76,313.10 L203.57,313.04 L204.38,312.97 L205.19,312.90 L206.00,312.84 L206.81,312.77 L207.62,312.70 L208.43,312.63 L209.25,312.57 L210.07,312.50 L210.88,312.43 L211.70,312.37 L212.52,312.30 L213.34,312.23 L214.16,312.16 L214.98,312.09 L215.80,312.02 L216.62,311.94 L217.44,311.87 L218.26,311.79 L219.08,311.71 L219.90,311.62 L220.71,311.53 L221.53,311.44 L222.34,311.35 L223.16,311.25 L223.97,311.14 L224.78,311.03 L225.58,310.92 L226.39,310.80 L227.19,310.67 L227.99,310.54 L228.79,310.41 L229.58,310.26 L230.37,310.11 L231.16,309.96 L231.94,309.79 L232.72,309.62 L233.50,309.44 L234.27,309.25 L235.04,309.06 L235.80,308.85 L236.56,308.64 L237.31,308.42 L238.06,308.18 L238.81,307.94 L239.54,307.69 L240.28,307.43 L241.00,307.15 L241.72,306.87 L242.44,306.57 L243.15,306.27 L243.85,305.95 L244.54,305.62 L245.23,305.28 L245.91,304.92 L246.59,304.55 L247.25,304.17 L247.91,303.78 L248.56,303.37 L249.21,302.95 L249.84,302.52 L250.47,302.07 L251.09,301.61 L251.70,301.13 L252.30,300.65 L252.90,300.15 L253.48,299.64 L254.05,299.12 L254.62,298.59 L255.18,298.05 L255.72,297.49 L256.26,296.93 L256.79,296.35 L257.30,295.77 L257.81,295.17 L258.31,294.57 L258.80,293.95 L259.27,293.33 L259.74,292.69 L260.19,292.05 L260.63,291.40 L261.07,290.74 L261.49,290.07 L261.90,289.40 L262.29,288.72 L262.68,288.03 L263.06,287.33 L263.42,286.62 L263.77,285.91 L264.11,285.20 L264.43,284.47 L264.75,283.74 L265.05,283.01 L265.34,282.27 L265.62,281.52 L265.90,280.77 L266.16,280.01 L266.41,279.25 L266.66,278.49 L266.90,277.72 L267.13,276.95 L267.35,276.17 L267.57,275.40 L267.79,274.62 L267.99,273.84 L268.20,273.05 L268.39,272.26 L268.59,271.48 L268.78,270.69 L268.97,269.90 L269.15,269.11 L269.33,268.31 L269.52,267.52 L269.70,266.73 L269.88,265.94 L270.06,265.15 L270.23,264.36 L270.41,263.57 L270.59,262.78 L270.77,261.99 L270.94,261.20 L271.12,260.41 L271.29,259.62 L271.47,258.83 L271.64,258.04 L271.81,257.26 L271.99,256.47 L272.16,255.68 L272.33,254.89 L272.50,254.11 L272.67,253.32 L272.84,252.53 L273.00,251.75 L273.17,250.96 L273.34,250.17 L273.50,249.39 L273.67,248.60 L273.84,247.82 L274.00,247.03 L274.16,246.25 L274.33,245.46 L274.49,244.67 L274.65,243.89 L274.81,243.11 L274.97,242.32 L275.13,241.54 L275.29,240.75 L275.45,239.97 L275.60,239.18 L275.76,238.40 L275.92,237.62 L276.07,236.83 L276.23,236.05 L276.38,235.26 L276.53,234.48 L276.69,233.70 L276.84,232.91 L276.99,232.13 L277.14,231.35 L277.29,230.56 L277.44,229.78 L277.59,229.00 L277.74,228.21 L277.88,227.43 L278.03,226.65 L278.18,225.86 L278.32,225.08 L278.47,224.30 L278.61,223.51 L278.75,222.73 L278.90,221.94 L279.04,221.16 L279.18,220.38 L279.32,219.59 L279.46,218.81 L279.60,218.03 L279.74,217.24 L279.87,216.46 L280.01,215.67 L280.15,214.89 L280.28,214.11 L280.42,213.32 L280.55,212.54 L280.69,211.75 L280.82,210.97 L280.95,210.19 L281.09,209.40 L281.22,208.62 L281.35,207.83 L281.48,207.05 L281.61,206.26 L281.74,205.48 L281.87,204.69 L282.00,203.91 L282.13,203.12 L282.26,202.34 L282.39,201.55 L282.52,200.77 L282.65,199.98 L282.77,199.19 L282.90,198.41 L283.03,197.62 L283.15,196.84 L283.28,196.05 L283.41,195.27 L283.53,194.48 L283.66,193.69 L283.78,192.91 L283.91,192.12 L284.03,191.33 L284.16,190.55 L284.28,189.76 L284.41,188.97 L284.53,188.19 L284.66,187.40 L284.78,186.61 L284.90,185.83 L285.03,185.04 L285.15,184.25 L285.27,183.46 L285.40,182.67 L285.52,181.89 L285.65,181.10 L285.77,180.31 L285.89,179.52 L286.02,178.73 L286.14,177.95 L286.26,177.16 L286.39,176.37 L286.51,175.58 L286.64,174.79 L286.76,174.00 L286.88,173.21 L287.01,172.42 L287.13,171.63 L287.26,170.84 L287.38,170.05 L287.51,169.26 L287.63,168.47 L287.76,167.68 L287.88,166.89 L288.01,166.10 L288.14,165.31 L288.26,164.52 L288.39,163.73 L288.52,162.94 L288.64,162.14 L288.77,161.35 L288.90,160.56 L289.03,159.77 L289.16,158.98 L289.28,158.19 L289.41,157.39 L289.54,156.60 L289.67,155.81 L289.80,155.01 L289.94,154.22 L290.07,153.43 L290.20,152.63 L290.33,151.84 L290.47,151.05 L290.60,150.25 L290.73,149.46 L290.87,148.66 L291.00,147.87 L291.14,147.08 L291.27,146.28 L291.41,145.49 L291.55,144.69 L291.69,143.89 L291.83,143.10 L291.97,142.30 L292.11,141.51 L292.25,140.71 L292.39,139.91 L292.53,139.12 L292.67,138.32 L292.82,137.52 L292.96,136.73 L293.11,135.93 L293.25,135.13 L293.40,134.33 L293.55,133.54 L293.69,132.74 L293.84,131.94 L293.99,131.14 L294.14,130.34 L294.30,129.54 L294.45,128.74 L294.60,127.94 L294.76,127.15 L294.93,126.35 L295.09,125.56 L295.27,124.77 L295.45,123.98 L295.64,123.20 L295.83,122.42 L296.04,121.65 L296.26,120.89 L296.48,120.13 L296.72,119.37 L296.98,118.63 L297.25,117.89 L297.53,117.16 L297.83,116.45 L298.14,115.74 L298.47,115.04 L298.82,114.35 L299.19,113.67 L299.58,113.01 L300.00,112.36 L300.43,111.72 L300.88,111.10 L301.36,110.49 L301.87,109.90 L302.39,109.34 L302.93,108.80 L303.49,108.30 L304.07,107.84 L304.67,107.41 L305.29,107.03 L305.92,106.71 L306.56,106.43 L307.22,106.21 L307.89,106.06 L308.57,105.97 L309.26,105.94 L309.96,105.98 L310.67,106.08 L311.39,106.24 L312.11,106.44 L312.83,106.69 L313.55,106.98 L314.28,107.31 L315.00,107.68 L315.72,108.07 L316.43,108.49 L317.14,108.93 L317.84,109.39 L318.54,109.87 L319.24,110.36 L319.93,110.85 L320.62,111.36 L321.31,111.86 L321.99,112.37 L322.67,112.87 L323.36,113.37 L324.04,113.85 L324.72,114.32 L325.40,114.78 L326.08,115.21 L326.76,115.63 L327.45,116.02 L328.13,116.40 L328.82,116.76 L329.52,117.11 L330.21,117.44 L330.91,117.75 L331.62,118.05 L332.33,118.34 L333.05,118.62 L333.77,118.88 L334.51,119.14 L335.25,119.39 L336.00,119.62 L336.75,119.85 L337.52,120.08 L338.29,120.29 L339.06,120.50 L339.84,120.71 L340.63,120.91 L341.42,121.10 L342.22,121.30 L343.02,121.48 L343.82,121.67 L344.62,121.85 L345.43,122.03 L346.24,122.22 L347.04,122.40 L347.85,122.58 L348.66,122.76 L349.47,122.94 L350.28,123.13 L351.08,123.32 L351.88,123.51 L352.68,123.70 L353.48,123.90 L354.27,124.11 L355.06,124.32 L355.84,124.53 L356.62,124.75 L357.39,124.98 L358.16,125.22 L358.92,125.46 L359.68,125.72 L360.43,125.97 L361.17,126.24 L361.91,126.51 L362.65,126.78 L363.38,127.06 L364.11,127.35 L364.83,127.65 L365.55,127.95 L366.26,128.25 L366.98,128.56 L367.68,128.88 L368.39,129.20 L369.09,129.52 L369.79,129.85 L370.48,130.19 L371.18,130.53 L371.87,130.87 L372.56,131.22 L373.24,131.57 L373.93,131.93 L374.61,132.29 L375.29,132.65 L375.97,133.02 L376.65,133.39 L377.33,133.76 L378.01,134.14 L378.68,134.52 L379.36,134.90 L380.04,135.28 L380.71,135.67 L381.39,136.06 L382.06,136.45 L382.74,136.84 L383.42,137.24 L384.10,137.63 L384.77,138.03 L385.45,138.43 L386.14,138.83 L386.82,139.23 L387.50,139.63 L388.19,140.04 L388.88,140.44 L389.57,140.85 L390.26,141.25 L390.95,141.66 L391.65,142.06 L392.35,142.47 L393.06,142.87 L393.76,143.27 L394.47,143.68 L395.19,144.08 L395.91,144.48 L396.63,144.89 L397.35,145.28 L398.08,145.68 L398.81,146.08 L399.54,146.47 L400.28,146.86 L401.02,147.24 L401.76,147.62 L402.50,148.00 L403.25,148.37 L404.00,148.74 L404.75,149.10 L405.51,149.46 L406.26,149.81 L407.02,150.15 L407.78,150.48 L408.54,150.81 L409.30,151.13 L410.06,151.45 L410.83,151.75 L411.60,152.05 L412.36,152.34 L413.13,152.61 L413.90,152.88 L414.67,153.14 L415.44,153.38 L416.22,153.62 L416.99,153.84 L417.76,154.06 L418.53,154.26 L419.31,154.44 L420.08,154.62 L420.85,154.78 L421.62,154.93 L422.40,155.06 L423.17,155.18 L423.94,155.29 L424.71,155.38 L425.48,155.45 L426.25,155.51 L427.02,155.55 L427.79,155.58 L428.55,155.59 L429.32,155.58 L430.08,155.56 L430.84,155.52 L431.61,155.47 L432.37,155.41 L433.13,155.33 L433.89,155.24 L434.65,155.13 L435.40,155.01 L436.16,154.88 L436.92,154.74 L437.67,154.58 L438.43,154.42 L439.18,154.24 L439.94,154.06 L440.69,153.86 L441.44,153.65 L442.20,153.44 L442.95,153.21 L443.70,152.98 L444.45,152.74 L445.20,152.49 L445.95,152.24 L446.70,151.98 L447.45,151.71 L448.20,151.43 L448.95,151.15 L449.69,150.87 L450.44,150.58 L451.19,150.28 L451.94,149.98 L452.69,149.68 L453.43,149.37 L454.18,149.06 L454.93,148.75 L455.68,148.44 L456.42,148.12 L457.17,147.80 L457.92,147.48 L458.67,147.17 L459.41,146.85 L460.16,146.53 L460.91,146.21 L461.66,145.89 L462.41,145.58 L463.15,145.26 L463.90,144.95 L464.65,144.64 L465.40,144.33 L466.15,144.03 L466.90,143.73 L467.65,143.43 L468.40,143.14 L469.16,142.84 L469.91,142.56 L470.66,142.27 L471.41,141.99 L472.16,141.70 L472.92,141.43 L473.67,141.15 L474.42,140.88 L475.18,140.61 L475.93,140.34 L476.69,140.07 L477.44,139.81 L478.20,139.55 L478.95,139.29 L479.71,139.03 L480.46,138.77 L481.22,138.52 L481.98,138.27 L482.73,138.02 L483.49,137.77 L484.25,137.52 L485.00,137.28 L485.76,137.03 L486.52,136.79 L487.28,136.55 L488.04,136.31 L488.79,136.07 L489.55,135.83 L490.31,135.60 L491.07,135.36 L491.83,135.13 L492.59,134.90 L493.35,134.67 L494.11,134.44 L494.87,134.21 L495.63,133.98 L496.39,133.75 L497.16,133.52 L497.92,133.29 L498.68,133.07 L499.44,132.84 L500.20,132.62 L500.96,132.39 L501.73,132.17 L502.49,131.94 L503.25,131.72 L504.01,131.49 L504.78,131.27 L505.54,131.04 L506.30,130.82 L507.07,130.60 L507.83,130.37 L508.59,130.15 L509.36,129.92 L510.12,129.69 L510.88,129.47 L511.65,129.24 L512.41,129.01 L513.18,128.79 L513.94,128.56 L514.70,128.33 L515.47,128.10 L516.23,127.87 L517.00,127.64 L517.76,127.41 L518.53,127.18 L519.29,126.95 L520.05,126.72 L520.82,126.48 L521.58,126.25 L522.35,126.01 L523.11,125.78 L523.87,125.54 L524.64,125.30 L525.40,125.07 L526.16,124.83 L526.93,124.59 L527.69,124.35 L528.45,124.11 L529.22,123.86 L529.98,123.62 L530.74,123.38 L531.50,123.13 L532.26,122.89 L533.03,122.64 L533.79,122.39 L534.55,122.14 L535.31,121.89 L536.07,121.64 L536.83,121.39 L537.59,121.13 L538.35,120.88 L539.10,120.62 L539.86,120.36 L540.62,120.11 L541.38,119.85 L542.13,119.58 L542.89,119.32 L543.65,119.06 L544.40,118.79 L545.16,118.53 L545.91,118.26 L546.66,117.99 L547.42,117.72 L548.17,117.45 L548.92,117.17 L549.68,116.90 L550.43,116.62 L551.18,116.34 L551.93,116.06 L552.68,115.78 L553.42,115.50 L554.17,115.21 L554.92,114.93 L555.67,114.64 L556.41,114.35 L557.16,114.06 L557.90,113.77 L558.64,113.47 L559.39,113.17 L560.13,112.88 L560.87,112.58 L561.61,112.27 L562.35,111.97 L563.09,111.66 L563.83,111.36 L564.56,111.05 L565.30,110.74 L566.04,110.42 L566.77,110.11 L567.50,109.79 L568.24,109.47 L568.97,109.15 L569.70,108.82 L570.43,108.50 L571.16,108.17 L571.89,107.84 L572.61,107.51 L573.34,107.17 L574.06,106.84 L574.79,106.50 L575.51,106.16 L576.23,105.81 L576.95,105.47 L577.67,105.12 L578.39,104.77 L579.11,104.42 L579.82,104.06 L580.54,103.71 L581.25,103.35 L581.96,102.98 L582.67,102.62 L583.38,102.25 L584.09,101.88 L584.80,101.51 L585.51,101.14 L586.21,100.76 L586.92,100.38 L587.62,100.00 L588.32,99.61 L589.02,99.22 L589.72,98.83 L590.41,98.44 L591.11,98.04 L591.80,97.65 L592.50,97.24 L593.19,96.84 L593.88,96.43 L594.57,96.02" stroke="#eb9b28"/>
<path d="M60.98,324.95 L61.79,324.97 L62.59,325.00 L63.39,325.02 L64.19,325.04 L64.99,325.06 L65.79,325.08 L66.59,325.10 L67.39,325.12 L68.19,325.13 L68.99,325.15 L69.79,325.16 L70.59,325.18 L71.39,325.19 L72.19,325.21 L72.99,325.22 L73.79,325.23 L74.59,325.24 L75.39,325.25 L76.19,325.26 L76.99,325.27 L77.79,325.28 L78.59,325.28 L79.39,325.29 L80.19,325.30 L80.99,325.30 L81.79,325.31 L82.59,325.31 L83.39,325.31 L84.19,325.32 L84.99,325.32 L85.79,325.32 L86.59,325.32 L87.39,325.32 L88.19,325.32 L88.99,325.32 L89.79,325.32 L90.59,325.32 L91.39,325.32 L92.18,325.32 L92.98,325.32 L93.78,325.31 L94.58,325.31 L95.38,325.31 L96.18,325.30 L96.98,325.30 L97.78,325.29 L98.58,325.29 L99.38,325.28 L100.18,325.28 L100.97,325.27 L101.77,325.26 L102.57,325.26 L103.37,325.25 L104.17,325.24 L104.97,325.23 L105.77,325.23 L106.57,325.22 L107.37,325.21 L108.17,325.20 L108.96,325.19 L109.76,325.18 L110.56,325.17 L111.36,325.16 L112.16,325.15 L112.96,325.14 L113.76,325.13 L114.56,325.12 L115.35,325.11 L116.15,325.10 L116.95,325.09 L117.75,325.08 L118.55,325.07 L119.35,325.06 L120.15,325.05 L120.95,325.04 L121.75,325.03 L122.54,325.02 L123.34,325.01 L124.14,325.00 L124.94,324.99 L125.74,324.98 L126.54,324.97 L127.34,324.96 L128.14,324.95 L128.93,324.94 L129.73,324.93 L130.53,324.92 L131.33,324.91 L132.13,324.90 L132.93,324.89 L133.73,324.88 L134.53,324.87 L135.32,324.86 L136.12,324.85 L136.92,324.84 L137.72,324.84 L138.52,324.83 L139.32,324.82 L140.12,324.81 L140.92,324.81 L141.72,324.80 L142.51,324.79 L143.31,324.79 L144.11,324.78 L144.91,324.77 L145.71,324.77 L146.51,324.76 L147.31,324.76 L148.11,324.75 L148.91,324.75 L149.71,324.75 L150.51,324.74 L151.31,324.74 L152.10,324.74 L152.90,324.74 L153.70,324.74 L154.50,324.74 L155.30,324.74 L156.10,324.74 L156.90,324.74 L157.70,324.74 L158.50,324.74 L159.30,324.74 L160.10,324.74 L160.90,324.75 L161.70,324.75 L162.50,324.76 L163.30,324.76 L164.10,324.77 L164.90,324.77 L165.70,324.78 L166.50,324.79 L167.30,324.80 L168.10,324.80 L168.90,324.81 L169.70,324.82 L170.50,324.83 L171.30,324.84 L172.10,324.85 L172.90,324.86 L173.70,324.87 L174.50,324.88 L175.30,324.89 L176.10,324.90 L176.90,324.91 L177.70,324.93 L178.50,324.94 L179.30,324.95 L180.10,324.96 L180.90,324.97 L181.70,324.99 L182.50,325.00 L183.30,325.01 L184.10,325.02 L184.90,325.04 L185.70,325.05 L186.50,325.06 L187.30,325.07 L188.10,325.08 L188.90,325.10 L189.70,325.11 L190.50,325.12 L191.30,325.13 L192.10,325.14 L192.90,325.15 L193.70,325.17 L194.50,325.18 L195.30,325.19 L196.10,325.20 L196.90,325.21 L197.70,325.21 L198.50,325.22 L199.30,325.23 L200.10,325.24 L200.90,325.25 L201.70,325.26 L202.50,325.26 L203.30,325.27 L204.10,325.27 L204.90,325.28 L205.70,325.28 L206.50,325.29 L207.30,325.29 L208.10,325.30 L208.90,325.30 L209.70,325.30 L210.50,325.30 L211.29,325.30 L212.09,325.30 L212.89,325.30 L213.69,325.30 L214.49,325.29 L215.29,325.29 L216.09,325.29 L216.89,325.28 L217.69,325.27 L218.49,325.27 L219.29,325.26 L220.09,325.25 L220.88,325.24 L221.68,325.23 L222.48,325.22 L223.28,325.20 L224.08,325.19 L224.88,325.18 L225.68,325.16 L226.48,325.14 L227.27,325.12 L228.07,325.10 L228.87,325.08 L229.67,325.06 L230.47,325.04 L231.26,325.01 L232.06,324.99 L232.86,324.96 L233.66,324.93 L234.46,324.90 L235.25,324.87 L236.05,324.84 L236.85,324.81 L237.65,324.77 L238.44,324.74 L239.24,324.70 L240.04,324.66 L240.84,324.62 L241.63,324.58 L242.43,324.53 L243.23,324.49 L244.02,324.44 L244.82,324.39 L245.62,324.34 L246.41,324.29 L247.21,324.24 L248.00,324.18 L248.80,324.13 L249.60,324.07 L250.39,324.01 L251.19,323.94 L251.98,323.88 L252.78,323.82 L253.58,323.75 L254.37,323.68 L255.17,323.61 L255.96,323.53 L256.76,323.46 L257.55,323.38 L258.35,323.30 L259.14,323.22 L259.94,323.14 L260.73,323.06 L261.53,322.97 L262.32,322.88 L263.11,322.79 L263.91,322.69 L264.70,322.60 L265.49,322.49 L266.28,322.39 L267.07,322.28 L267.86,322.16 L268.64,322.03 L269.43,321.90 L270.21,321.76 L270.98,321.62 L271.76,321.46 L272.53,321.29 L273.30,321.12 L274.06,320.93 L274.82,320.74 L275.58,320.53 L276.33,320.31 L277.08,320.07 L277.82,319.83 L278.55,319.57 L279.28,319.29 L280.01,319.00 L280.73,318.69 L281.44,318.37 L282.15,318.03 L282.85,317.68 L283.54,317.30 L284.23,316.91 L284.90,316.50 L285.58,316.07 L286.24,315.62 L286.89,315.15 L287.54,314.67 L288.18,314.18 L288.81,313.67 L289.44,313.14 L290.05,312.61 L290.66,312.05 L291.26,311.49 L291.84,310.92 L292.43,310.33 L293.00,309.74 L293.56,309.13 L294.11,308.52 L294.66,307.90 L295.20,307.27 L295.72,306.64 L296.24,306.00 L296.75,305.35 L297.24,304.70 L297.73,304.05 L298.21,303.39 L298.68,302.72 L299.14,302.06 L299.59,301.39 L300.03,300.72 L300.46,300.04 L300.89,299.36 L301.30,298.68 L301.71,297.99 L302.11,297.30 L302.50,296.61 L302.88,295.91 L303.26,295.21 L303.63,294.51 L303.99,293.80 L304.34,293.10 L304.68,292.39 L305.02,291.67 L305.36,290.96 L305.68,290.24 L306.00,289.51 L306.31,288.79 L306.62,288.06 L306.92,287.34 L307.22,286.60 L307.51,285.87 L307.79,285.14 L308.07,284.40 L308.35,283.66 L308.61,282.92 L308.88,282.17 L309.14,281.43 L309.39,280.68 L309.64,279.93 L309.89,279.18 L310.13,278.42 L310.37,277.67 L310.61,276.91 L310.84,276.16 L311.07,275.40 L311.29,274.64 L311.51,273.88 L311.73,273.11 L311.95,272.35 L312.16,271.58 L312.37,270.82 L312.58,270.05 L312.79,269.28 L313.00,268.51 L313.20,267.75 L313.40,266.97 L313.60,266.20 L313.80,265.43 L314.00,264.66 L314.19,263.88 L314.38,263.11 L314.57,262.33 L314.76,261.56 L314.95,260.78 L315.14,260.00 L315.32,259.23 L315.51,258.45 L315.69,257.67 L315.87,256.89 L316.05,256.11 L316.22,255.33 L316.40,254.54 L316.57,253.76 L316.75,252.98 L316.92,252.19 L317.09,251.41 L317.26,250.63 L317.43,249.84 L317.59,249.06 L317.76,248.27 L317.92,247.48 L318.08,246.70 L318.25,245.91 L318.41,245.12 L318.57,244.33 L318.73,243.54 L318.88,242.76 L319.04,241.97 L319.20,241.18 L319.35,240.39 L319.51,239.60 L319.66,238.81 L319.81,238.02 L319.96,237.23 L320.11,236.43 L320.26,235.64 L320.41,234.85 L320.56,234.06 L320.71,233.27 L320.85,232.48 L321.00,231.68 L321.15,230.89 L321.29,230.10 L321.44,229.31 L321.58,228.52 L321.72,227.72 L321.87,226.93 L322.01,226.14 L322.15,225.35 L322.29,224.55 L322.43,223.76 L322.58,222.97 L322.72,222.18 L322.86,221.38 L323.00,220.59 L323.14,219.80 L323.28,219.01 L323.42,218.22 L323.56,217.42 L323.69,216.63 L323.83,215.84 L323.97,215.05 L324.11,214.26 L324.25,213.47 L324.39,212.68 L324.53,211.89 L324.67,211.10 L324.81,210.31 L324.95,209.52 L325.09,208.73 L325.23,207.94 L325.37,207.15 L325.51,206.37 L325.65,205.58 L325.79,204.79 L325.93,204.01 L326.07,203.22 L326.21,202.43 L326.35,201.65 L326.49,200.86 L326.64,200.08 L326.78,199.30 L326.92,198.51 L327.07,197.73 L327.21,196.95 L327.36,196.17 L327.50,195.39 L327.65,194.61 L327.80,193.83 L327.94,193.05 L328.09,192.27 L328.24,191.49 L328.39,190.72 L328.54,189.94 L328.69,189.16 L328.85,188.39 L329.00,187.62 L329.15,186.84 L329.31,186.07 L329.46,185.30 L329.62,184.53 L329.78,183.76 L329.94,182.99 L330.10,182.22 L330.26,181.45 L330.42,180.68 L330.58,179.92 L330.74,179.15 L330.91,178.38 L331.07,177.62 L331.23,176.85 L331.40,176.08 L331.57,175.32 L331.73,174.55 L331.90,173.78 L332.07,173.02 L332.23,172.25 L332.40,171.48 L332.57,170.71 L332.74,169.95 L332.91,169.18 L333.08,168.41 L333.25,167.64 L333.42,166.87 L333.59,166.09 L333.76,165.32 L333.94,164.55 L334.11,163.77 L334.28,163.00 L334.45,162.22 L334.62,161.45 L334.80,160.67 L334.97,159.89 L335.14,159.11 L335.31,158.32 L335.49,157.54 L335.66,156.75 L335.83,155.97 L336.00,155.18 L336.17,154.39 L336.35,153.59 L336.52,152.80 L336.69,152.00 L336.86,151.20 L337.03,150.40 L337.20,149.60 L337.37,148.79 L337.54,147.99 L337.71,147.18 L337.88,146.37 L338.05,145.55 L338.22,144.73 L338.39,143.92 L338.55,143.10 L338.72,142.27 L338.89,141.45 L339.07,140.63 L339.24,139.80 L339.42,138.98 L339.59,138.16 L339.78,137.34 L339.96,136.52 L340.15,135.70 L340.34,134.88 L340.54,134.07 L340.74,133.26 L340.94,132.45 L341.15,131.65 L341.37,130.85 L341.59,130.06 L341.82,129.27 L342.06,128.48 L342.30,127.70 L342.56,126.93 L342.82,126.17 L343.08,125.41 L343.36,124.65 L343.64,123.91 L343.94,123.17 L344.24,122.44 L344.56,121.73 L344.88,121.02 L345.22,120.31 L345.57,119.62 L345.92,118.94 L346.29,118.27 L346.68,117.62 L347.07,116.97 L347.48,116.33 L347.90,115.71 L348.34,115.10 L348.79,114.50 L349.25,113.92 L349.73,113.35 L350.23,112.79 L350.73,112.25 L351.26,111.73 L351.80,111.22 L352.36,110.72 L352.94,110.24 L353.53,109.78 L354.14,109.33 L354.76,108.91 L355.41,108.50 L356.06,108.12 L356.73,107.76 L357.42,107.42 L358.11,107.11 L358.82,106.83 L359.53,106.58 L360.26,106.37 L360.99,106.18 L361.73,106.03 L362.48,105.91 L363.23,105.84 L363.99,105.79 L364.75,105.78 L365.52,105.80 L366.28,105.85 L367.05,105.94 L367.81,106.05 L368.57,106.19 L369.33,106.35 L370.09,106.55 L370.84,106.76 L371.59,107.00 L372.33,107.27 L373.07,107.55 L373.81,107.85 L374.54,108.17 L375.28,108.50 L376.01,108.85 L376.73,109.21 L377.46,109.59 L378.18,109.97 L378.90,110.37 L379.63,110.77 L380.35,111.18 L381.07,111.59 L381.78,112.01 L382.50,112.43 L383.22,112.85 L383.94,113.27 L384.66,113.69 L385.38,114.11 L386.10,114.52 L386.82,114.92 L387.54,115.32 L388.27,115.72 L388.99,116.10 L389.72,116.48 L390.45,116.85 L391.18,117.22 L391.91,117.58 L392.64,117.94 L393.37,118.29 L394.11,118.63 L394.84,118.97 L395.58,119.30 L396.31,119.62 L397.05,119.94 L397.79,120.25 L398.53,120.56 L399.28,120.87 L400.02,121.16 L400.76,121.45 L401.51,121.74 L402.26,122.02 L403.00,122.30 L403.75,122.57 L404.50,122.83 L405.26,123.09 L406.01,123.35 L406.76,123.60 L407.52,123.84 L408.27,124.08 L409.03,124.32 L409.79,124.55 L410.55,124.77 L411.31,124.99 L412.07,125.21 L412.83,125.42 L413.60,125.63 L414.36,125.83 L415.13,126.03 L415.90,126.22 L416.67,126.41 L417.44,126.60 L418.21,126.78 L418.98,126.96 L419.75,127.13 L420.53,127.30 L421.30,127.47 L422.08,127.63 L422.86,127.78 L423.64,127.94 L424.42,128.09 L425.20,128.23 L425.98,128.37 L426.76,128.51 L427.54,128.64 L428.33,128.77 L429.11,128.89 L429.90,129.01 L430.68,129.13 L431.47,129.24 L432.26,129.35 L433.05,129.45 L433.83,129.55 L434.62,129.64 L435.41,129.73 L436.20,129.81 L437.00,129.89 L437.79,129.97 L438.58,130.04 L439.37,130.11 L440.16,130.17 L440.96,130.22 L441.75,130.28 L442.54,130.32 L443.34,130.37 L444.13,130.41 L444.93,130.44 L445.72,130.47 L446.52,130.49 L447.31,130.51 L448.11,130.53 L448.90,130.53 L449.70,130.54 L450.49,130.54 L451.29,130.53 L452.08,130.52 L452.88,130.51 L453.67,130.49 L454.47,130.46 L455.26,130.43 L456.05,130.39 L456.85,130.35 L457.64,130.31 L458.44,130.26 L459.23,130.20 L460.02,130.14 L460.81,130.07 L461.61,130.00 L462.40,129.92 L463.19,129.84 L463.98,129.75 L464.77,129.65 L465.56,129.56 L466.35,129.45 L467.13,129.34 L467.92,129.23 L468.71,129.10 L469.50,128.98 L470.28,128.84 L471.06,128.71 L471.85,128.56 L472.63,128.41 L473.41,128.26 L474.20,128.10 L474.98,127.94 L475.76,127.77 L476.54,127.60 L477.32,127.42 L478.09,127.24 L478.87,127.05 L479.65,126.86 L480.43,126.67 L481.20,126.48 L481.98,126.28 L482.76,126.08 L483.53,125.88 L484.31,125.67 L485.08,125.46 L485.86,125.25 L486.63,125.04 L487.40,124.83 L488.18,124.61 L488.95,124.40 L489.73,124.18 L490.50,123.96 L491.27,123.74 L492.05,123.53 L492.82,123.31 L493.59,123.09 L494.37,122.87 L495.14,122.65 L495.91,122.43 L496.69,122.21 L497.46,122.00 L498.24,121.78 L499.01,121.57 L499.79,121.36 L500.56,121.15 L501.34,120.94 L502.11,120.73 L502.89,120.53 L503.67,120.33 L504.44,120.13 L505.22,119.94 L506.00,119.74 L506.78,119.55 L507.56,119.37 L508.34,119.19 L509.12,119.01 L509.90,118.84 L510.68,118.67 L511.46,118.50 L512.24,118.34 L513.03,118.18 L513.81,118.03 L514.60,117.88 L515.38,117.73 L516.17,117.58 L516.95,117.44 L517.74,117.30 L518.52,117.16 L519.31,117.03 L520.10,116.90 L520.88,116.76 L521.67,116.63 L522.46,116.50 L523.24,116.38 L524.03,116.25 L524.82,116.13 L525.61,116.00 L526.39,115.88 L527.18,115.75 L527.97,115.63 L528.75,115.50 L529.54,115.38 L530.33,115.25 L531.11,115.13 L531.90,115.00 L532.69,114.88 L533.47,114.75 L534.25,114.62 L535.04,114.49 L535.82,114.35 L536.61,114.22 L537.39,114.08 L538.17,113.94 L538.95,113.80 L539.73,113.65 L540.51,113.51 L541.29,113.36 L542.07,113.20 L542.85,113.04 L543.63,112.88 L544.40,112.72 L545.18,112.55 L545.95,112.38 L546.73,112.20 L547.50,112.02 L548.27,111.83 L549.04,111.64 L549.81,111.45 L550.58,111.24 L551.35,111.04 L552.11,110.82 L552.88,110.61 L553.64,110.38 L554.40,110.15 L555.16,109.91 L555.92,109.67 L556.68,109.42 L557.44,109.16 L558.19,108.90 L558.95,108.63 L559.70,108.36 L560.45,108.08 L561.20,107.79 L561.95,107.50 L562.70,107.21 L563.45,106.91 L564.19,106.61 L564.94,106.31 L565.68,106.00 L566.43,105.69 L567.17,105.37 L567.92,105.06 L568.66,104.74 L569.40,104.42 L570.14,104.10 L570.89,103.78 L571.63,103.46 L572.37,103.14 L573.11,102.82 L573.85,102.50 L574.59,102.18 L575.33,101.86 L576.07,101.54 L576.81,101.22 L577.56,100.91 L578.30,100.59 L579.04,100.28 L579.78,99.98 L580.53,99.67 L581.27,99.37 L582.01,99.08 L582.76,98.78 L583.50,98.50 L584.25,98.21 L585.00,97.93 L585.74,97.66 L586.49,97.39 L587.24,97.13 L587.99,96.88 L588.75,96.63 L589.50,96.39 L590.25,96.15 L591.01,95.92 L591.77,95.70 L592.52,95.49 L593.28,95.29 L594.04,95.10 L594.81,94.91" stroke="#2f9a58"/>
<path d="M60.82,322.82 L61.63,322.82 L62.44,322.82 L63.25,322.82 L64.06,322.82 L64.87,322.82 L65.68,322.82 L66.48,322.81 L67.29,322.81 L68.10,322.81 L68.91,322.81 L69.72,322.81 L70.52,322.81 L71.33,322.81 L72.14,322.81 L72.95,322.81 L73.75,322.80 L74.56,322.80 L75.37,322.80 L76.17,322.80 L76.98,322.80 L77.78,322.80 L78.59,322.80 L79.39,322.80 L80.20,322.80 L81.01,322.80 L81.81,322.80 L82.62,322.80 L83.42,322.80 L84.22,322.79 L85.03,322.79 L85.83,322.79 L86.64,322.79 L87.44,322.79 L88.24,322.79 L89.05,322.79 L89.85,322.79 L90.66,322.79 L91.46,322.79 L92.26,322.79 L93.06,322.79 L93.87,322.79 L94.67,322.79 L95.47,322.79 L96.27,322.79 L97.08,322.79 L97.88,322.79 L98.68,322.79 L99.48,322.79 L100.28,322.79 L101.09,322.79 L101.89,322.79 L102.69,322.79 L103.49,322.79 L104.29,322.79 L105.09,322.79 L105.89,322.79 L106.69,322.79 L107.49,322.79 L108.29,322.79 L109.09,322.79 L109.89,322.79 L110.69,322.79 L111.49,322.79 L112.29,322.79 L113.09,322.79 L113.89,322.79 L114.69,322.79 L115.49,322.79 L116.29,322.79 L117.09,322.79 L117.89,322.79 L118.69,322.79 L119.49,322.79 L120.29,322.79 L121.09,322.79 L121.89,322.79 L122.68,322.79 L123.48,322.79 L124.28,322.79 L125.08,322.79 L125.88,322.79 L126.68,322.79 L127.48,322.79 L128.27,322.79 L129.07,322.79 L129.87,322.79 L130.67,322.79 L131.47,322.79 L132.26,322.79 L133.06,322.79 L133.86,322.79 L134.66,322.79 L135.45,322.79 L136.25,322.79 L137.05,322.79 L137.85,322.79 L138.64,322.79 L139.44,322.79 L140.24,322.79 L141.04,322.80 L141.83,322.80 L142.63,322.80 L143.43,322.80 L144.22,322.80 L145.02,322.80 L145.82,322.80 L146.62,322.80 L147.41,322.80 L148.21,322.80 L149.01,322.80 L149.80,322.80 L150.60,322.80 L151.40,322.80 L152.19,322.80 L152.99,322.80 L153.79,322.80 L154.58,322.80 L155.38,322.80 L156.18,322.80 L156.97,322.80 L157.77,322.80 L158.57,322.80 L159.36,322.81 L160.16,322.81 L160.96,322.81 L161.75,322.81 L162.55,322.81 L163.35,322.81 L164.14,322.81 L164.94,322.81 L165.74,322.81 L166.53,322.81 L167.33,322.81 L168.13,322.81 L168.92,322.81 L169.72,322.81 L170.52,322.81 L171.31,322.81 L172.11,322.81 L172.91,322.81 L173.70,322.81 L174.50,322.81 L175.30,322.81 L176.09,322.81 L176.89,322.81 L177.69,322.81 L178.49,322.81 L179.28,322.81 L180.08,322.82 L180.88,322.82 L181.67,322.82 L182.47,322.82 L183.27,322.82 L184.06,322.82 L184.86,322.82 L185.66,322.82 L186.46,322.82 L187.25,322.82 L188.05,322.82 L188.85,322.82 L189.65,322.82 L190.44,322.82 L191.24,322.82 L192.04,322.82 L192.84,322.82 L193.64,322.82 L194.43,322.82 L195.23,322.82 L196.03,322.82 L196.83,322.82 L197.63,322.82 L198.42,322.82 L199.22,322.82 L200.02,322.82 L200.82,322.82 L201.62,322.82 L202.42,322.82 L203.22,322.82 L204.01,322.82 L204.81,322.82 L205.61,322.82 L206.41,322.82 L207.21,322.82 L208.01,322.82 L208.81,322.82 L209.61,322.82 L210.41,322.82 L211.21,322.82 L212.01,322.82 L212.81,322.82 L213.61,322.82 L214.41,322.82 L215.21,322.82 L216.01,322.82 L216.81,322.81 L217.61,322.81 L218.41,322.81 L219.21,322.81 L220.01,322.81 L220.81,322.81 L221.61,322.81 L222.41,322.81 L223.22,322.81 L224.02,322.81 L224.82,322.81 L225.62,322.81 L226.42,322.81 L227.22,322.81 L228.03,322.81 L228.83,322.81 L229.63,322.81 L230.43,322.80 L231.24,322.80 L232.04,322.80 L232.84,322.80 L233.64,322.80 L234.45,322.80 L235.25,322.80 L236.05,322.80 L236.86,322.80 L237.66,322.80 L238.47,322.79 L239.27,322.79 L240.07,322.79 L240.88,322.79 L241.68,322.79 L242.49,322.79 L243.29,322.79 L244.10,322.79 L244.90,322.78 L245.71,322.78 L246.51,322.78 L247.32,322.78 L248.13,322.78 L248.93,322.78 L249.74,322.78 L250.54,322.77 L251.35,322.77 L252.16,322.77 L252.97,322.77 L253.77,322.77 L254.58,322.77 L255.39,322.76 L256.20,322.76 L257.00,322.76 L257.81,322.76 L258.62,322.76 L259.43,322.75 L260.24,322.75 L261.05,322.75 L261.85,322.75 L262.66,322.75 L263.47,322.74 L264.28,322.74 L265.09,322.74 L265.90,322.74 L266.71,322.74 L267.52,322.73 L268.34,322.73 L269.15,322.73 L269.96,322.73 L270.77,322.72 L271.58,322.72 L272.39,322.72 L273.20,322.71 L274.02,322.71 L274.83,322.70 L275.64,322.69 L276.45,322.68 L277.26,322.67 L278.07,322.66 L278.88,322.64 L279.68,322.62 L280.49,322.60 L281.30,322.57 L282.10,322.55 L282.90,322.51 L283.71,322.47 L284.51,322.43 L285.30,322.39 L286.10,322.33 L286.90,322.28 L287.69,322.22 L288.48,322.15 L289.27,322.07 L290.06,321.99 L290.85,321.91 L291.63,321.81 L292.41,321.71 L293.19,321.61 L293.96,321.49 L294.73,321.37 L295.50,321.24 L296.27,321.10 L297.03,320.95 L297.79,320.79 L298.55,320.63 L299.31,320.45 L300.06,320.27 L300.80,320.07 L301.55,319.87 L302.29,319.65 L303.02,319.42 L303.75,319.19 L304.48,318.94 L305.21,318.68 L305.92,318.41 L306.64,318.12 L307.35,317.83 L308.06,317.52 L308.76,317.20 L309.45,316.86 L310.15,316.51 L310.83,316.15 L311.51,315.78 L312.19,315.39 L312.86,314.99 L313.53,314.58 L314.19,314.16 L314.84,313.72 L315.49,313.28 L316.14,312.82 L316.78,312.35 L317.41,311.87 L318.04,311.38 L318.66,310.88 L319.27,310.36 L319.88,309.84 L320.49,309.31 L321.08,308.77 L321.67,308.22 L322.26,307.66 L322.83,307.10 L323.41,306.52 L323.97,305.94 L324.53,305.35 L325.08,304.75 L325.62,304.14 L326.16,303.52 L326.69,302.90 L327.21,302.28 L327.72,301.64 L328.23,301.00 L328.73,300.35 L329.23,299.70 L329.71,299.04 L330.19,298.38 L330.66,297.71 L331.12,297.04 L331.58,296.36 L332.02,295.68 L332.46,294.99 L332.89,294.30 L333.31,293.60 L333.72,292.91 L334.13,292.21 L334.53,291.50 L334.91,290.80 L335.29,290.09 L335.67,289.38 L336.03,288.66 L336.39,287.94 L336.73,287.22 L337.07,286.50 L337.41,285.78 L337.73,285.05 L338.05,284.32 L338.36,283.59 L338.66,282.86 L338.96,282.12 L339.25,281.38 L339.54,280.64 L339.81,279.90 L340.09,279.16 L340.35,278.41 L340.61,277.66 L340.87,276.91 L341.11,276.16 L341.36,275.40 L341.59,274.65 L341.83,273.89 L342.05,273.13 L342.28,272.37 L342.49,271.61 L342.71,270.84 L342.91,270.08 L343.12,269.31 L343.32,268.54 L343.52,267.77 L343.71,267.00 L343.90,266.23 L344.08,265.46 L344.26,264.68 L344.44,263.91 L344.61,263.13 L344.79,262.35 L344.96,261.57 L345.12,260.79 L345.29,260.01 L345.45,259.23 L345.61,258.45 L345.76,257.66 L345.92,256.88 L346.07,256.09 L346.22,255.31 L346.37,254.52 L346.52,253.73 L346.67,252.95 L346.81,252.16 L346.96,251.37 L347.10,250.58 L347.24,249.79 L347.39,249.00 L347.53,248.21 L347.67,247.42 L347.81,246.63 L347.95,245.84 L348.09,245.05 L348.23,244.26 L348.37,243.46 L348.51,242.67 L348.65,241.88 L348.78,241.09 L348.92,240.29 L349.06,239.50 L349.19,238.71 L349.33,237.92 L349.46,237.12 L349.60,236.33 L349.73,235.54 L349.86,234.74 L350.00,233.95 L350.13,233.16 L350.26,232.36 L350.40,231.57 L350.53,230.78 L350.66,229.99 L350.79,229.19 L350.92,228.40 L351.05,227.61 L351.18,226.81 L351.31,226.02 L351.44,225.23 L351.57,224.44 L351.70,223.64 L351.83,222.85 L351.96,222.06 L352.08,221.27 L352.21,220.48 L352.34,219.68 L352.47,218.89 L352.59,218.10 L352.72,217.31 L352.85,216.52 L352.98,215.73 L353.10,214.94 L353.23,214.15 L353.35,213.36 L353.48,212.57 L353.61,211.79 L353.73,211.00 L353.86,210.21 L353.98,209.42 L354.11,208.64 L354.24,207.85 L354.36,207.07 L354.49,206.28 L354.61,205.50 L354.74,204.71 L354.86,203.93 L354.99,203.15 L355.11,202.36 L355.24,201.58 L355.36,200.80 L355.49,200.01 L355.61,199.23 L355.74,198.45 L355.86,197.67 L355.99,196.89 L356.11,196.11 L356.23,195.32 L356.36,194.54 L356.48,193.76 L356.61,192.98 L356.73,192.20 L356.86,191.42 L356.98,190.64 L357.10,189.86 L357.23,189.08 L357.35,188.30 L357.48,187.51 L357.60,186.73 L357.72,185.95 L357.85,185.17 L357.97,184.39 L358.10,183.61 L358.22,182.82 L358.34,182.04 L358.47,181.26 L358.59,180.48 L358.72,179.69 L358.84,178.91 L358.96,178.13 L359.09,177.34 L359.21,176.56 L359.33,175.77 L359.46,174.99 L359.58,174.20 L359.70,173.42 L359.83,172.63 L359.95,171.84 L360.08,171.05 L360.20,170.27 L360.32,169.48 L360.45,168.69 L360.57,167.90 L360.69,167.11 L360.82,166.31 L360.94,165.52 L361.06,164.73 L361.19,163.94 L361.31,163.14 L361.43,162.35 L361.56,161.55 L361.68,160.75 L361.80,159.96 L361.93,159.16 L362.05,158.36 L362.18,157.56 L362.30,156.76 L362.43,155.96 L362.55,155.16 L362.68,154.35 L362.81,153.55 L362.94,152.75 L363.08,151.95 L363.21,151.15 L363.35,150.35 L363.49,149.55 L363.63,148.75 L363.77,147.95 L363.92,147.15 L364.07,146.35 L364.22,145.55 L364.38,144.76 L364.54,143.96 L364.70,143.17 L364.87,142.37 L365.04,141.58 L365.22,140.79 L365.40,140.00 L365.59,139.22 L365.78,138.43 L365.97,137.65 L366.17,136.87 L366.38,136.09 L366.59,135.31 L366.81,134.54 L367.03,133.76 L367.26,132.99 L367.50,132.23 L367.74,131.46 L367.99,130.70 L368.25,129.94 L368.51,129.18 L368.78,128.43 L369.06,127.68 L369.35,126.93 L369.64,126.19 L369.94,125.45 L370.25,124.71 L370.57,123.98 L370.90,123.25 L371.23,122.52 L371.58,121.80 L371.93,121.08 L372.30,120.37 L372.67,119.66 L373.05,118.95 L373.44,118.25 L373.85,117.55 L374.26,116.86 L374.68,116.18 L375.12,115.50 L375.56,114.83 L376.02,114.18 L376.49,113.55 L376.97,112.93 L377.46,112.33 L377.97,111.76 L378.49,111.21 L379.03,110.69 L379.57,110.20 L380.14,109.75 L380.72,109.33 L381.31,108.94 L381.92,108.60 L382.54,108.29 L383.18,108.02 L383.82,107.79 L384.48,107.60 L385.15,107.45 L385.82,107.33 L386.51,107.26 L387.20,107.23 L387.89,107.24 L388.60,107.29 L389.30,107.38 L390.01,107.50 L390.73,107.67 L391.44,107.86 L392.16,108.10 L392.88,108.36 L393.61,108.64 L394.33,108.96 L395.06,109.29 L395.79,109.65 L396.52,110.03 L397.24,110.42 L397.97,110.83 L398.70,111.26 L399.43,111.69 L400.15,112.13 L400.87,112.58 L401.60,113.03 L402.32,113.48 L403.03,113.94 L403.75,114.39 L404.46,114.84 L405.17,115.29 L405.88,115.74 L406.58,116.19 L407.29,116.64 L407.99,117.09 L408.69,117.54 L409.39,117.98 L410.09,118.43 L410.78,118.87 L411.48,119.30 L412.17,119.74 L412.87,120.17 L413.56,120.60 L414.25,121.03 L414.95,121.45 L415.64,121.88 L416.33,122.29 L417.02,122.71 L417.72,123.12 L418.41,123.52 L419.10,123.92 L419.80,124.32 L420.49,124.71 L421.19,125.10 L421.88,125.48 L422.58,125.86 L423.28,126.23 L423.98,126.59 L424.68,126.95 L425.39,127.31 L426.09,127.66 L426.80,128.00 L427.51,128.34 L428.22,128.66 L428.94,128.99 L429.65,129.30 L430.37,129.61 L431.10,129.91 L431.82,130.20 L432.55,130.49 L433.28,130.77 L434.02,131.04 L434.75,131.30 L435.49,131.55 L436.23,131.80 L436.98,132.04 L437.73,132.27 L438.48,132.50 L439.23,132.71 L439.99,132.92 L440.74,133.13 L441.50,133.32 L442.27,133.51 L443.03,133.69 L443.80,133.87 L444.56,134.03 L445.34,134.19 L446.11,134.35 L446.88,134.49 L447.66,134.63 L448.44,134.76 L449.22,134.89 L450.00,135.00 L450.78,135.12 L451.57,135.22 L452.35,135.32 L453.14,135.41 L453.93,135.49 L454.72,135.57 L455.51,135.64 L456.30,135.71 L457.10,135.76 L457.89,135.81 L458.69,135.86 L459.49,135.90 L460.29,135.93 L461.08,135.96 L461.88,135.97 L462.69,135.99 L463.49,135.99 L464.29,135.99 L465.09,135.99 L465.89,135.98 L466.70,135.96 L467.50,135.94 L468.31,135.91 L469.11,135.87 L469.92,135.83 L470.72,135.78 L471.53,135.73 L472.33,135.67 L473.14,135.60 L473.94,135.53 L474.75,135.45 L475.55,135.37 L476.36,135.28 L477.16,135.19 L477.96,135.09 L478.77,134.98 L479.57,134.87 L480.37,134.75 L481.18,134.63 L481.98,134.51 L482.78,134.37 L483.58,134.23 L484.38,134.09 L485.18,133.94 L485.97,133.79 L486.77,133.63 L487.57,133.47 L488.36,133.30 L489.15,133.12 L489.95,132.94 L490.74,132.76 L491.53,132.57 L492.31,132.37 L493.10,132.18 L493.89,131.97 L494.67,131.76 L495.45,131.55 L496.23,131.33 L497.01,131.11 L497.79,130.88 L498.56,130.65 L499.33,130.41 L500.10,130.17 L500.87,129.92 L501.64,129.67 L502.41,129.41 L503.17,129.15 L503.93,128.89 L504.69,128.62 L505.44,128.35 L506.20,128.07 L506.95,127.79 L507.69,127.50 L508.44,127.21 L509.18,126.92 L509.92,126.62 L510.66,126.32 L511.40,126.01 L512.13,125.70 L512.86,125.38 L513.58,125.07 L514.30,124.74 L515.02,124.42 L515.74,124.09 L516.45,123.75 L517.16,123.42 L517.87,123.08 L518.58,122.73 L519.28,122.39 L519.98,122.04 L520.69,121.70 L521.39,121.35 L522.09,121.00 L522.79,120.66 L523.48,120.31 L524.18,119.96 L524.88,119.62 L525.59,119.28 L526.29,118.94 L526.99,118.60 L527.70,118.26 L528.40,117.93 L529.11,117.61 L529.83,117.28 L530.54,116.97 L531.26,116.65 L531.98,116.35 L532.71,116.05 L533.44,115.75 L534.18,115.47 L534.92,115.19 L535.66,114.91 L536.41,114.65 L537.17,114.39 L537.92,114.14 L538.69,113.89 L539.45,113.65 L540.22,113.42 L540.99,113.19 L541.77,112.96 L542.55,112.74 L543.33,112.52 L544.11,112.30 L544.89,112.09 L545.68,111.87 L546.46,111.66 L547.25,111.45 L548.04,111.24 L548.83,111.03 L549.61,110.82 L550.40,110.61 L551.19,110.40 L551.97,110.18 L552.75,109.97 L553.54,109.75 L554.32,109.53 L555.09,109.30 L555.87,109.07 L556.64,108.84 L557.41,108.60 L558.18,108.35 L558.95,108.11 L559.71,107.85 L560.47,107.60 L561.23,107.34 L561.98,107.08 L562.74,106.81 L563.49,106.54 L564.24,106.27 L564.99,106.00 L565.74,105.72 L566.48,105.44 L567.23,105.16 L567.97,104.87 L568.71,104.59 L569.45,104.30 L570.19,104.01 L570.93,103.72 L571.67,103.43 L572.41,103.13 L573.15,102.84 L573.89,102.54 L574.62,102.24 L575.36,101.95 L576.10,101.65 L576.83,101.35 L577.57,101.05 L578.31,100.76 L579.05,100.46 L579.78,100.16 L580.52,99.86 L581.26,99.57 L582.00,99.27 L582.74,98.98 L583.49,98.69 L584.23,98.39 L584.97,98.10 L585.72,97.82 L586.47,97.53 L587.22,97.24 L587.97,96.96 L588.72,96.68 L589.47,96.40 L590.23,96.13 L590.99,95.86 L591.75,95.59 L592.51,95.32 L593.28,95.06 L594.04,94.80 L594.81,94.55" stroke="#2f80ba"/>
<path d="M61.04,323.12 L61.83,323.14 L62.63,323.15 L63.43,323.17 L64.23,323.18 L65.02,323.20 L65.82,323.21 L66.62,323.23 L67.42,323.24 L68.22,323.26 L69.01,323.27 L69.81,323.28 L70.61,323.30 L71.41,323.31 L72.21,323.32 L73.00,323.33 L73.80,323.34 L74.60,323.35 L75.40,323.37 L76.20,323.38 L76.99,323.39 L77.79,323.40 L78.59,323.41 L79.39,323.42 L80.19,323.43 L80.99,323.44 L81.78,323.44 L82.58,323.45 L83.38,323.46 L84.18,323.47 L84.98,323.48 L85.78,323.49 L86.58,323.49 L87.37,323.50 L88.17,323.51 L88.97,323.51 L89.77,323.52 L90.57,323.53 L91.37,323.53 L92.17,323.54 L92.97,323.54 L93.76,323.55 L94.56,323.55 L95.36,323.56 L96.16,323.56 L96.96,323.57 L97.76,323.57 L98.56,323.58 L99.36,323.58 L100.16,323.58 L100.96,323.59 L101.75,323.59 L102.55,323.59 L103.35,323.60 L104.15,323.60 L104.95,323.60 L105.75,323.60 L106.55,323.60 L107.35,323.61 L108.15,323.61 L108.95,323.61 L109.75,323.61 L110.55,323.61 L111.35,323.61 L112.15,323.61 L112.95,323.61 L113.74,323.61 L114.54,323.62 L115.34,323.62 L116.14,323.62 L116.94,323.62 L117.74,323.62 L118.54,323.61 L119.34,323.61 L120.14,323.61 L120.94,323.61 L121.74,323.61 L122.54,323.61 L123.34,323.61 L124.14,323.61 L124.94,323.61 L125.74,323.61 L126.54,323.60 L127.34,323.60 L128.14,323.60 L128.94,323.60 L129.74,323.60 L130.54,323.59 L131.34,323.59 L132.14,323.59 L132.94,323.59 L133.74,323.58 L134.54,323.58 L135.34,323.58 L136.14,323.58 L136.94,323.57 L137.74,323.57 L138.54,323.57 L139.34,323.56 L140.14,323.56 L140.94,323.56 L141.74,323.55 L142.54,323.55 L143.34,323.55 L144.14,323.54 L144.94,323.54 L145.74,323.54 L146.54,323.53 L147.34,323.53 L148.14,323.52 L148.94,323.52 L149.74,323.52 L150.54,323.51 L151.34,323.51 L152.14,323.50 L152.94,323.50 L153.74,323.50 L154.54,323.49 L155.34,323.49 L156.14,323.48 L156.94,323.48 L157.74,323.47 L158.54,323.47 L159.34,323.47 L160.14,323.46 L160.94,323.46 L161.74,323.45 L162.54,323.45 L163.34,323.45 L164.14,323.44 L164.94,323.44 L165.74,323.43 L166.54,323.43 L167.34,323.42 L168.14,323.42 L168.94,323.42 L169.74,323.41 L170.54,323.41 L171.34,323.40 L172.14,323.40 L172.94,323.40 L173.74,323.39 L174.54,323.39 L175.34,323.38 L176.14,323.38 L176.94,323.38 L177.74,323.37 L178.54,323.37 L179.34,323.37 L180.14,323.36 L180.94,323.36 L181.74,323.36 L182.54,323.35 L183.34,323.35 L184.14,323.35 L184.94,323.34 L185.74,323.34 L186.54,323.34 L187.34,323.33 L188.14,323.33 L188.94,323.33 L189.74,323.33 L190.54,323.32 L191.34,323.32 L192.14,323.32 L192.94,323.32 L193.74,323.31 L194.54,323.31 L195.34,323.31 L196.14,323.31 L196.94,323.31 L197.74,323.30 L198.54,323.30 L199.34,323.30 L200.14,323.30 L200.94,323.30 L201.74,323.30 L202.54,323.30 L203.34,323.30 L204.14,323.30 L204.94,323.30 L205.74,323.30 L206.54,323.30 L207.34,323.30 L208.14,323.30 L208.94,323.30 L209.74,323.30 L210.54,323.30 L211.34,323.30 L212.14,323.30 L212.94,323.30 L213.74,323.30 L214.54,323.30 L215.34,323.30 L216.13,323.31 L216.93,323.31 L217.73,323.31 L218.53,323.31 L219.33,323.32 L220.13,323.32 L220.93,323.32 L221.73,323.32 L222.53,323.33 L223.33,323.33 L224.13,323.34 L224.93,323.34 L225.73,323.34 L226.53,323.35 L227.32,323.35 L228.12,323.36 L228.92,323.36 L229.72,323.37 L230.52,323.37 L231.32,323.38 L232.12,323.38 L232.92,323.39 L233.72,323.40 L234.52,323.40 L235.31,323.41 L236.11,323.42 L236.91,323.42 L237.71,323.43 L238.51,323.44 L239.31,323.45 L240.11,323.46 L240.91,323.47 L241.70,323.47 L242.50,323.48 L243.30,323.49 L244.10,323.50 L244.90,323.51 L245.70,323.52 L246.50,323.53 L247.29,323.54 L248.09,323.55 L248.89,323.57 L249.69,323.58 L250.49,323.59 L251.29,323.60 L252.08,323.61 L252.88,323.63 L253.68,323.64 L254.48,323.65 L255.28,323.67 L256.07,323.68 L256.87,323.70 L257.67,323.71 L258.47,323.73 L259.27,323.74 L260.06,323.76 L260.86,323.77 L261.66,323.79 L262.46,323.81 L263.25,323.82 L264.05,323.84 L264.85,323.86 L265.65,323.87 L266.44,323.89 L267.24,323.91 L268.04,323.93 L268.84,323.95 L269.63,323.97 L270.43,323.99 L271.23,324.01 L272.03,324.03 L272.82,324.04 L273.62,324.06 L274.42,324.08 L275.21,324.10 L276.01,324.12 L276.81,324.13 L277.61,324.15 L278.40,324.16 L279.20,324.18 L280.00,324.19 L280.80,324.21 L281.59,324.22 L282.39,324.23 L283.19,324.24 L283.99,324.24 L284.78,324.25 L285.58,324.26 L286.38,324.26 L287.18,324.26 L287.97,324.26 L288.77,324.26 L289.57,324.26 L290.37,324.25 L291.17,324.25 L291.96,324.24 L292.76,324.23 L293.56,324.21 L294.36,324.20 L295.16,324.18 L295.96,324.16 L296.76,324.13 L297.55,324.11 L298.35,324.08 L299.15,324.05 L299.95,324.01 L300.75,323.98 L301.55,323.94 L302.35,323.89 L303.15,323.85 L303.95,323.80 L304.75,323.75 L305.55,323.69 L306.35,323.63 L307.15,323.57 L307.95,323.50 L308.75,323.43 L309.56,323.36 L310.36,323.28 L311.16,323.20 L311.96,323.11 L312.76,323.02 L313.56,322.93 L314.37,322.83 L315.17,322.72 L315.97,322.62 L316.77,322.51 L317.58,322.39 L318.38,322.27 L319.18,322.14 L319.99,322.01 L320.79,321.88 L321.59,321.73 L322.39,321.59 L323.19,321.44 L323.99,321.28 L324.78,321.12 L325.58,320.95 L326.37,320.77 L327.16,320.59 L327.95,320.40 L328.73,320.21 L329.52,320.00 L330.30,319.80 L331.07,319.58 L331.85,319.36 L332.62,319.13 L333.38,318.89 L334.14,318.65 L334.90,318.40 L335.65,318.14 L336.40,317.87 L337.14,317.59 L337.88,317.31 L338.61,317.02 L339.34,316.72 L340.06,316.41 L340.78,316.09 L341.49,315.76 L342.19,315.43 L342.89,315.08 L343.58,314.73 L344.26,314.36 L344.94,313.99 L345.61,313.60 L346.27,313.21 L346.93,312.81 L347.57,312.39 L348.21,311.97 L348.84,311.54 L349.46,311.09 L350.07,310.63 L350.68,310.17 L351.27,309.69 L351.85,309.20 L352.43,308.70 L353.00,308.19 L353.55,307.67 L354.10,307.14 L354.64,306.59 L355.17,306.04 L355.70,305.48 L356.21,304.91 L356.72,304.33 L357.21,303.74 L357.70,303.14 L358.18,302.53 L358.66,301.91 L359.12,301.29 L359.58,300.66 L360.03,300.01 L360.48,299.37 L360.91,298.71 L361.34,298.05 L361.76,297.38 L362.18,296.70 L362.59,296.02 L362.99,295.32 L363.38,294.63 L363.77,293.93 L364.16,293.22 L364.53,292.50 L364.90,291.78 L365.27,291.06 L365.63,290.33 L365.98,289.59 L366.33,288.86 L366.67,288.11 L367.01,287.37 L367.34,286.61 L367.66,285.86 L367.99,285.10 L368.30,284.34 L368.61,283.57 L368.92,282.80 L369.22,282.03 L369.52,281.26 L369.82,280.48 L370.11,279.71 L370.39,278.93 L370.68,278.15 L370.95,277.36 L371.23,276.58 L371.50,275.79 L371.77,275.01 L372.03,274.22 L372.29,273.44 L372.55,272.65 L372.81,271.86 L373.06,271.08 L373.31,270.29 L373.56,269.50 L373.80,268.72 L374.05,267.93 L374.29,267.15 L374.53,266.37 L374.76,265.59 L375.00,264.81 L375.23,264.03 L375.46,263.25 L375.68,262.48 L375.91,261.70 L376.13,260.93 L376.36,260.15 L376.58,259.38 L376.79,258.61 L377.01,257.84 L377.22,257.06 L377.43,256.29 L377.64,255.52 L377.85,254.75 L378.06,253.98 L378.26,253.22 L378.47,252.45 L378.67,251.68 L378.87,250.91 L379.07,250.15 L379.26,249.38 L379.46,248.61 L379.65,247.85 L379.85,247.08 L380.04,246.32 L380.23,245.55 L380.41,244.79 L380.60,244.02 L380.79,243.26 L380.97,242.49 L381.15,241.73 L381.33,240.96 L381.51,240.19 L381.69,239.43 L381.87,238.66 L382.05,237.90 L382.22,237.13 L382.40,236.37 L382.57,235.60 L382.74,234.83 L382.91,234.06 L383.08,233.30 L383.25,232.53 L383.42,231.76 L383.59,230.99 L383.75,230.22 L383.92,229.45 L384.09,228.68 L384.25,227.91 L384.41,227.14 L384.58,226.36 L384.74,225.59 L384.90,224.82 L385.06,224.04 L385.22,223.27 L385.38,222.49 L385.54,221.71 L385.70,220.94 L385.85,220.16 L386.01,219.38 L386.17,218.60 L386.32,217.83 L386.48,217.05 L386.63,216.27 L386.78,215.49 L386.94,214.71 L387.09,213.92 L387.24,213.14 L387.39,212.36 L387.55,211.58 L387.70,210.79 L387.85,210.01 L388.00,209.23 L388.15,208.44 L388.29,207.66 L388.44,206.87 L388.59,206.09 L388.74,205.30 L388.89,204.52 L389.03,203.73 L389.18,202.94 L389.33,202.16 L389.47,201.37 L389.62,200.58 L389.77,199.79 L389.91,199.01 L390.06,198.22 L390.20,197.43 L390.35,196.64 L390.49,195.85 L390.64,195.06 L390.78,194.27 L390.92,193.48 L391.07,192.69 L391.21,191.90 L391.36,191.11 L391.50,190.32 L391.64,189.53 L391.79,188.74 L391.93,187.95 L392.07,187.16 L392.22,186.37 L392.36,185.58 L392.50,184.79 L392.65,184.00 L392.79,183.21 L392.93,182.41 L393.08,181.62 L393.22,180.83 L393.36,180.04 L393.51,179.25 L393.65,178.46 L393.79,177.66 L393.94,176.87 L394.08,176.08 L394.23,175.29 L394.37,174.50 L394.51,173.71 L394.66,172.92 L394.80,172.13 L394.95,171.33 L395.10,170.54 L395.24,169.75 L395.39,168.96 L395.53,168.17 L395.68,167.38 L395.83,166.59 L395.97,165.80 L396.12,165.01 L396.27,164.22 L396.42,163.43 L396.57,162.64 L396.72,161.85 L396.87,161.06 L397.02,160.27 L397.17,159.48 L397.32,158.69 L397.47,157.91 L397.62,157.12 L397.77,156.33 L397.92,155.54 L398.08,154.76 L398.23,153.97 L398.39,153.18 L398.54,152.40 L398.70,151.61 L398.85,150.82 L399.01,150.04 L399.17,149.25 L399.32,148.47 L399.48,147.69 L399.64,146.90 L399.80,146.12 L399.96,145.34 L400.12,144.55 L400.29,143.77 L400.45,142.99 L400.61,142.21 L400.78,141.43 L400.94,140.65 L401.11,139.87 L401.27,139.09 L401.44,138.31 L401.61,137.53 L401.78,136.75 L401.95,135.98 L402.12,135.20 L402.29,134.42 L402.46,133.65 L402.64,132.87 L402.81,132.10 L402.99,131.32 L403.16,130.55 L403.34,129.78 L403.52,129.00 L403.70,128.23 L403.89,127.46 L404.07,126.69 L404.26,125.92 L404.45,125.15 L404.65,124.38 L404.85,123.62 L405.05,122.85 L405.26,122.08 L405.47,121.31 L405.68,120.55 L405.90,119.78 L406.13,119.02 L406.36,118.25 L406.60,117.49 L406.84,116.72 L407.09,115.96 L407.35,115.20 L407.61,114.44 L407.88,113.67 L408.16,112.91 L408.45,112.15 L408.74,111.39 L409.05,110.63 L409.36,109.87 L409.68,109.11 L410.01,108.35 L410.35,107.59 L410.70,106.84 L411.05,106.08 L411.42,105.33 L411.81,104.59 L412.20,103.86 L412.61,103.14 L413.02,102.44 L413.46,101.75 L413.90,101.08 L414.36,100.44 L414.84,99.82 L415.33,99.22 L415.84,98.66 L416.36,98.12 L416.90,97.62 L417.46,97.16 L418.04,96.73 L418.63,96.34 L419.24,96.00 L419.88,95.70 L420.53,95.45 L421.20,95.24 L421.89,95.07 L422.58,94.94 L423.30,94.86 L424.02,94.81 L424.75,94.79 L425.50,94.82 L426.24,94.88 L427.00,94.97 L427.76,95.09 L428.52,95.24 L429.28,95.42 L430.04,95.63 L430.80,95.87 L431.55,96.13 L432.30,96.41 L433.04,96.72 L433.78,97.05 L434.50,97.39 L435.22,97.76 L435.93,98.14 L436.62,98.54 L437.31,98.95 L437.99,99.38 L438.66,99.83 L439.32,100.29 L439.98,100.76 L440.63,101.24 L441.27,101.73 L441.91,102.24 L442.54,102.75 L443.16,103.28 L443.79,103.81 L444.40,104.34 L445.02,104.89 L445.62,105.44 L446.23,105.99 L446.83,106.55 L447.43,107.12 L448.03,107.68 L448.63,108.25 L449.23,108.82 L449.82,109.38 L450.41,109.95 L451.01,110.52 L451.60,111.09 L452.19,111.67 L452.78,112.23 L453.37,112.80 L453.96,113.37 L454.55,113.94 L455.15,114.50 L455.74,115.06 L456.33,115.62 L456.92,116.18 L457.52,116.73 L458.12,117.28 L458.71,117.83 L459.31,118.37 L459.92,118.91 L460.52,119.44 L461.12,119.97 L461.73,120.49 L462.34,121.01 L462.96,121.52 L463.57,122.02 L464.19,122.52 L464.82,123.01 L465.44,123.49 L466.07,123.96 L466.71,124.43 L467.35,124.89 L467.99,125.34 L468.63,125.78 L469.29,126.21 L469.94,126.63 L470.60,127.04 L471.27,127.44 L471.94,127.83 L472.62,128.21 L473.30,128.58 L473.99,128.93 L474.69,129.28 L475.39,129.61 L476.10,129.93 L476.81,130.23 L477.53,130.52 L478.26,130.80 L478.99,131.07 L479.73,131.32 L480.48,131.56 L481.23,131.79 L481.98,132.00 L482.74,132.20 L483.51,132.39 L484.27,132.57 L485.05,132.73 L485.82,132.87 L486.60,133.01 L487.38,133.13 L488.17,133.24 L488.95,133.34 L489.74,133.42 L490.53,133.49 L491.33,133.55 L492.12,133.59 L492.91,133.62 L493.71,133.64 L494.51,133.64 L495.30,133.64 L496.10,133.62 L496.90,133.59 L497.70,133.55 L498.50,133.49 L499.30,133.43 L500.09,133.36 L500.89,133.28 L501.69,133.19 L502.49,133.09 L503.29,132.99 L504.09,132.87 L504.89,132.75 L505.69,132.62 L506.49,132.49 L507.28,132.35 L508.08,132.20 L508.88,132.05 L509.67,131.89 L510.47,131.73 L511.26,131.57 L512.06,131.40 L512.85,131.23 L513.64,131.05 L514.43,130.87 L515.22,130.69 L516.00,130.51 L516.79,130.33 L517.58,130.15 L518.36,129.96 L519.14,129.78 L519.92,129.59 L520.70,129.40 L521.48,129.20 L522.26,129.01 L523.03,128.81 L523.80,128.61 L524.58,128.41 L525.35,128.21 L526.12,128.00 L526.89,127.79 L527.65,127.58 L528.42,127.37 L529.19,127.15 L529.95,126.93 L530.71,126.71 L531.47,126.48 L532.23,126.26 L532.99,126.03 L533.75,125.79 L534.50,125.56 L535.26,125.32 L536.01,125.08 L536.76,124.83 L537.51,124.58 L538.26,124.33 L539.01,124.08 L539.76,123.82 L540.50,123.55 L541.24,123.29 L541.99,123.02 L542.73,122.75 L543.47,122.47 L544.21,122.19 L544.94,121.90 L545.68,121.61 L546.42,121.32 L547.15,121.02 L547.88,120.72 L548.61,120.42 L549.34,120.11 L550.07,119.79 L550.80,119.48 L551.52,119.15 L552.25,118.83 L552.97,118.49 L553.69,118.16 L554.41,117.82 L555.13,117.47 L555.85,117.12 L556.57,116.76 L557.28,116.40 L558.00,116.04 L558.71,115.67 L559.42,115.30 L560.14,114.92 L560.85,114.55 L561.56,114.17 L562.27,113.78 L562.98,113.40 L563.69,113.02 L564.40,112.63 L565.11,112.24 L565.82,111.86 L566.53,111.47 L567.24,111.09 L567.95,110.70 L568.66,110.32 L569.37,109.94 L570.09,109.56 L570.80,109.19 L571.52,108.81 L572.23,108.45 L572.95,108.08 L573.67,107.72 L574.39,107.36 L575.11,107.01 L575.84,106.66 L576.56,106.32 L577.29,105.99 L578.02,105.66 L578.75,105.34 L579.49,105.03 L580.23,104.72 L580.97,104.42 L581.71,104.13 L582.45,103.85 L583.20,103.58 L583.95,103.32 L584.71,103.07 L585.46,102.83 L586.22,102.59 L586.99,102.37 L587.75,102.17 L588.53,101.97 L589.30,101.79 L590.08,101.61 L590.86,101.46 L591.65,101.31 L592.44,101.18 L593.24,101.06 L594.04,100.96 L594.84,100.87" stroke="#81559e"/>
</g>
<rect x="136" y="263" width="56" height="23" fill="#fff"/><text x="137.6" y="280.2" fill="#d62530" stroke="#d62530" stroke-width="0.28" font-size="15.7" letter-spacing="-0.15" >2.42 eV</text>
<rect x="222" y="253.5" width="56" height="22.5" fill="#fff"/><text x="223.8" y="270.3" fill="#e8961f" stroke="#e8961f" stroke-width="0.28" font-size="15.7" letter-spacing="-0.15" >2.75 eV</text>
<rect x="284.5" y="229.8" width="64.0" height="21.799999999999983" fill="#fff"/><text x="286.2" y="246" fill="#26954f" stroke="#26954f" stroke-width="0.28" font-size="15.7" letter-spacing="-0.15" >2.91 eV</text>
<rect x="320" y="203.2" width="56" height="22.600000000000023" fill="#fff"/><text x="321.2" y="219.2" fill="#2879b6" stroke="#2879b6" stroke-width="0.28" font-size="15.7" letter-spacing="-0.15" >3.02 eV</text>
<rect x="377.5" y="164.8" width="56.5" height="22.69999999999999" fill="#fff"/><text x="378.8" y="181.3" fill="#7b4d9b" stroke="#7b4d9b" stroke-width="0.28" font-size="15.7" letter-spacing="-0.15" >3.13 eV</text>
<line x1="409" y1="200.3" x2="448.5" y2="200.3" stroke="#dc2a35" stroke-width="2"/>
<text x="453.3" y="205.60000000000002" font-size="17" fill="#222" stroke="#222" stroke-width="0.28">CsGeBr<tspan font-size="10.8" dy="7">3</tspan></text>
<line x1="409" y1="227.5" x2="448.5" y2="227.5" stroke="#eb9b28" stroke-width="2"/>
<text x="453.3" y="232.8" font-size="17" fill="#222" stroke="#222" stroke-width="0.28">FAGe<tspan font-size="10.8" dy="7">0.56</tspan><tspan dy="-7">Sn</tspan><tspan font-size="10.8" dy="7">0.44</tspan><tspan dy="-7">Br</tspan><tspan font-size="10.8" dy="7">3</tspan></text>
<line x1="409" y1="254.7" x2="448.5" y2="254.7" stroke="#2f9a58" stroke-width="2"/>
<text x="453.3" y="260.0" font-size="17" fill="#222" stroke="#222" stroke-width="0.28">MAGeBr<tspan font-size="10.8" dy="7">3</tspan></text>
<line x1="409" y1="281.9" x2="448.5" y2="281.9" stroke="#2f80ba" stroke-width="2"/>
<text x="453.3" y="287.2" font-size="17" fill="#222" stroke="#222" stroke-width="0.28">FA<tspan font-size="10.8" dy="7">0.5</tspan><tspan dy="-7">MA</tspan><tspan font-size="10.8" dy="7">0.5</tspan><tspan dy="-7">GeBr</tspan><tspan font-size="10.8" dy="7">3</tspan></text>
<line x1="409" y1="309.1" x2="448.5" y2="309.1" stroke="#81559e" stroke-width="2"/>
<text x="453.3" y="314.40000000000003" font-size="17" fill="#222" stroke="#222" stroke-width="0.28">FAGeBr<tspan font-size="10.8" dy="7">3</tspan></text>
<rect x="60.7" y="24.3" width="534.8" height="301.3" fill="none" stroke="#111" stroke-width="2"/>
<line x1="62" y1="323.4" x2="594.5" y2="323.4" stroke="#4a3382" stroke-width="1.8"/>
<line x1="62" y1="325.5" x2="594.5" y2="325.5" stroke="#0f5232" stroke-width="2.2"/>
<line x1="61.0" y1="325.6" x2="61.0" y2="335.1" stroke="#111" stroke-width="2"/>
<line x1="127.8" y1="325.6" x2="127.8" y2="330.6" stroke="#111" stroke-width="2"/>
<line x1="194.6" y1="325.6" x2="194.6" y2="335.1" stroke="#111" stroke-width="2"/>
<line x1="261.4" y1="325.6" x2="261.4" y2="330.6" stroke="#111" stroke-width="2"/>
<line x1="328.2" y1="325.6" x2="328.2" y2="335.1" stroke="#111" stroke-width="2"/>
<line x1="395.0" y1="325.6" x2="395.0" y2="330.6" stroke="#111" stroke-width="2"/>
<line x1="461.8" y1="325.6" x2="461.8" y2="335.1" stroke="#111" stroke-width="2"/>
<line x1="528.6" y1="325.6" x2="528.6" y2="330.6" stroke="#111" stroke-width="2"/>
<line x1="595.4" y1="325.6" x2="595.4" y2="335.1" stroke="#111" stroke-width="2"/>
<text x="61.0" y="350.8" font-size="19.5" fill="#222" stroke="#222" stroke-width="0.28" text-anchor="middle">2.0</text>
<text x="194.6" y="350.8" font-size="19.5" fill="#222" stroke="#222" stroke-width="0.28" text-anchor="middle">2.5</text>
<text x="328.2" y="350.8" font-size="19.5" fill="#222" stroke="#222" stroke-width="0.28" text-anchor="middle">3.0</text>
<text x="461.8" y="350.8" font-size="19.5" fill="#222" stroke="#222" stroke-width="0.28" text-anchor="middle">3.5</text>
<text x="595.4" y="350.8" font-size="19.5" fill="#222" stroke="#222" stroke-width="0.28" text-anchor="middle">4.0</text>
<text x="334.5" y="375.3" font-size="21.5" fill="#222" stroke="#222" stroke-width="0.28" text-anchor="middle">Energy (eV)</text>
<text transform="translate(37.5,176.3) rotate(-90)" font-size="21.2" fill="#222" stroke="#222" stroke-width="0.28" text-anchor="middle">Kulbelka-munk</text>
<text x="17.4" y="36.4" font-size="28" letter-spacing="0.9" fill="#111" stroke="#111" stroke-width="0.28">(a)</text>
<g fill="none" stroke-width="2.2" stroke-linejoin="round" stroke-linecap="round">
<path d="M61.00,474.92 L61.80,474.92 L62.60,474.91 L63.40,474.91 L64.20,474.91 L65.00,474.90 L65.80,474.90 L66.60,474.89 L67.40,474.89 L68.20,474.89 L69.00,474.88 L69.80,474.88 L70.59,474.88 L71.39,474.88 L72.19,474.87 L72.99,474.87 L73.79,474.87 L74.59,474.87 L75.39,474.86 L76.19,474.86 L76.99,474.86 L77.79,474.86 L78.59,474.85 L79.39,474.85 L80.19,474.85 L80.99,474.85 L81.79,474.85 L82.59,474.85 L83.39,474.84 L84.19,474.84 L84.99,474.84 L85.79,474.84 L86.59,474.84 L87.39,474.84 L88.18,474.84 L88.98,474.84 L89.78,474.84 L90.58,474.84 L91.38,474.83 L92.18,474.83 L92.98,474.83 L93.78,474.83 L94.58,474.83 L95.38,474.83 L96.18,474.83 L96.98,474.83 L97.78,474.83 L98.58,474.83 L99.38,474.83 L100.18,474.83 L100.98,474.83 L101.78,474.83 L102.58,474.83 L103.38,474.83 L104.18,474.83 L104.98,474.83 L105.78,474.83 L106.58,474.83 L107.38,474.83 L108.18,474.83 L108.98,474.83 L109.77,474.83 L110.57,474.83 L111.37,474.83 L112.17,474.83 L112.97,474.83 L113.77,474.83 L114.57,474.83 L115.37,474.83 L116.17,474.83 L116.97,474.83 L117.77,474.83 L118.57,474.83 L119.37,474.83 L120.17,474.83 L120.97,474.83 L121.77,474.83 L122.57,474.83 L123.37,474.82 L124.17,474.82 L124.97,474.82 L125.77,474.82 L126.57,474.82 L127.37,474.82 L128.17,474.82 L128.97,474.82 L129.77,474.82 L130.56,474.82 L131.36,474.82 L132.16,474.82 L132.96,474.82 L133.76,474.82 L134.56,474.81 L135.36,474.81 L136.16,474.81 L136.96,474.81 L137.76,474.81 L138.56,474.81 L139.36,474.81 L140.16,474.80 L140.96,474.80 L141.76,474.80 L142.56,474.80 L143.36,474.80 L144.16,474.80 L144.96,474.79 L145.76,474.79 L146.56,474.79 L147.35,474.79 L148.15,474.78 L148.95,474.78 L149.75,474.78 L150.55,474.77 L151.35,474.77 L152.15,474.77 L152.95,474.76 L153.75,474.76 L154.55,474.76 L155.35,474.75 L156.15,474.75 L156.95,474.75 L157.75,474.74 L158.55,474.74 L159.35,474.73 L160.14,474.72 L160.94,474.72 L161.74,474.71 L162.54,474.70 L163.34,474.69 L164.14,474.68 L164.94,474.67 L165.74,474.65 L166.54,474.64 L167.34,474.62 L168.14,474.61 L168.94,474.59 L169.74,474.57 L170.54,474.54 L171.34,474.52 L172.14,474.49 L172.94,474.46 L173.74,474.43 L174.54,474.39 L175.33,474.33 L176.13,474.26 L176.93,474.18 L177.72,474.08 L178.51,473.95 L179.30,473.80 L180.09,473.62 L180.87,473.41 L181.65,473.16 L182.41,472.89 L183.17,472.59 L183.91,472.25 L184.63,471.89 L185.32,471.49 L186.00,471.07 L186.64,470.61 L187.26,470.12 L187.84,469.60 L188.38,469.05 L188.89,468.46 L189.35,467.85 L189.79,467.22 L190.19,466.56 L190.56,465.87 L190.89,465.17 L191.21,464.44 L191.49,463.70 L191.76,462.94 L192.00,462.17 L192.23,461.39 L192.43,460.60 L192.62,459.80 L192.80,459.00 L192.97,458.19 L193.12,457.38 L193.27,456.57 L193.42,455.76 L193.56,454.96 L193.70,454.16 L193.84,453.37 L193.97,452.58 L194.10,451.79 L194.23,451.00 L194.36,450.22 L194.49,449.44 L194.62,448.66 L194.75,447.89 L194.88,447.11 L195.01,446.33 L195.14,445.56 L195.27,444.78 L195.40,444.00 L195.53,443.22 L195.66,442.44 L195.80,441.66 L195.93,440.88 L196.07,440.09 L196.21,439.31 L196.35,438.52 L196.48,437.73 L196.62,436.94 L196.76,436.15 L196.90,435.36 L197.04,434.57 L197.18,433.78 L197.31,432.99 L197.45,432.19 L197.59,431.40 L197.72,430.61 L197.85,429.82 L197.98,429.02 L198.11,428.23 L198.24,427.44 L198.37,426.65 L198.49,425.86 L198.61,425.07 L198.74,424.27 L198.86,423.48 L198.99,422.69 L199.12,421.90 L199.25,421.11 L199.39,420.32 L199.53,419.53 L199.67,418.74 L199.82,417.95 L199.98,417.15 L200.15,416.36 L200.32,415.57 L200.51,414.77 L200.70,413.98 L200.90,413.18 L201.12,412.39 L201.35,411.59 L201.59,410.79 L201.84,410.02 L202.12,409.36 L202.42,408.90 L202.75,408.75 L203.11,408.95 L203.48,409.42 L203.85,410.08 L204.19,410.84 L204.49,411.62 L204.75,412.41 L204.97,413.21 L205.17,414.02 L205.33,414.83 L205.48,415.65 L205.61,416.46 L205.72,417.28 L205.83,418.10 L205.93,418.91 L206.03,419.73 L206.14,420.54 L206.25,421.34 L206.36,422.15 L206.47,422.95 L206.58,423.75 L206.70,424.54 L206.82,425.34 L206.93,426.13 L207.05,426.92 L207.17,427.71 L207.29,428.49 L207.41,429.28 L207.53,430.06 L207.66,430.84 L207.78,431.62 L207.90,432.40 L208.02,433.18 L208.14,433.96 L208.26,434.74 L208.38,435.52 L208.50,436.30 L208.62,437.07 L208.74,437.85 L208.87,438.63 L208.99,439.42 L209.11,440.20 L209.23,440.98 L209.36,441.77 L209.48,442.55 L209.61,443.34 L209.74,444.13 L209.86,444.93 L209.99,445.72 L210.12,446.52 L210.26,447.32 L210.39,448.13 L210.52,448.93 L210.66,449.74 L210.81,450.55 L210.96,451.35 L211.12,452.16 L211.28,452.96 L211.46,453.76 L211.65,454.55 L211.86,455.33 L212.07,456.11 L212.31,456.88 L212.56,457.64 L212.82,458.39 L213.11,459.13 L213.42,459.85 L213.75,460.56 L214.11,461.26 L214.49,461.94 L214.89,462.60 L215.33,463.24 L215.79,463.86 L216.28,464.47 L216.79,465.06 L217.33,465.63 L217.88,466.17 L218.47,466.70 L219.07,467.22 L219.69,467.71 L220.33,468.18 L220.98,468.64 L221.66,469.07 L222.34,469.49 L223.04,469.89 L223.76,470.27 L224.48,470.63 L225.22,470.97 L225.96,471.29 L226.71,471.60 L227.47,471.88 L228.23,472.15 L229.00,472.39 L229.77,472.62 L230.55,472.83 L231.33,473.02 L232.11,473.20 L232.89,473.35 L233.67,473.50 L234.46,473.63 L235.25,473.74 L236.04,473.85 L236.83,473.94 L237.62,474.03 L238.41,474.10 L239.21,474.17 L240.00,474.23 L240.80,474.28 L241.60,474.32 L242.40,474.36 L243.20,474.40 L243.99,474.44 L244.79,474.47 L245.59,474.50 L246.39,474.53 L247.19,474.56 L247.99,474.59 L248.79,474.62 L249.59,474.65 L250.39,474.68 L251.19,474.71 L251.99,474.73 L252.79,474.76 L253.59,474.78 L254.39,474.81 L255.18,474.83 L255.98,474.85 L256.78,474.87 L257.58,474.90 L258.38,474.92 L259.18,474.94 L259.98,474.96 L260.78,474.98 L261.58,474.99 L262.38,475.01 L263.18,475.03 L263.98,475.05 L264.78,475.06 L265.58,475.08 L266.38,475.09 L267.17,475.11 L267.97,475.12 L268.77,475.14 L269.57,475.15 L270.37,475.16 L271.17,475.17 L271.97,475.18 L272.77,475.20 L273.57,475.21 L274.37,475.22 L275.17,475.23 L275.97,475.24 L276.77,475.24 L277.57,475.25 L278.37,475.26 L279.17,475.27 L279.97,475.27 L280.77,475.28 L281.56,475.29 L282.36,475.29 L283.16,475.30 L283.96,475.30 L284.76,475.31 L285.56,475.31 L286.36,475.32 L287.16,475.32 L287.96,475.32 L288.76,475.33 L289.56,475.33 L290.36,475.33 L291.16,475.34 L291.96,475.34 L292.76,475.34 L293.56,475.34 L294.36,475.34 L295.16,475.34 L295.96,475.34 L296.76,475.34 L297.55,475.34 L298.35,475.34 L299.15,475.34 L299.95,475.34 L300.75,475.34 L301.55,475.34 L302.35,475.34 L303.15,475.34 L303.95,475.34 L304.75,475.34 L305.55,475.33 L306.35,475.33 L307.15,475.33 L307.95,475.33 L308.75,475.33 L309.55,475.32 L310.35,475.32 L311.15,475.32 L311.95,475.31 L312.75,475.31 L313.55,475.31 L314.35,475.31 L315.15,475.30 L315.94,475.30 L316.74,475.30 L317.54,475.29 L318.34,475.29 L319.14,475.29 L319.94,475.28 L320.74,475.28 L321.54,475.28 L322.34,475.28 L323.14,475.27 L323.94,475.27 L324.74,475.27 L325.54,475.26 L326.34,475.26 L327.14,475.26 L327.94,475.26 L328.74,475.25 L329.54,475.25 L330.34,475.25 L331.14,475.24 L331.94,475.24 L332.74,475.24 L333.54,475.24 L334.34,475.24 L335.14,475.23 L335.93,475.23 L336.73,475.23 L337.53,475.23 L338.33,475.23 L339.13,475.23 L339.93,475.22 L340.73,475.22 L341.53,475.22 L342.33,475.22 L343.13,475.22 L343.93,475.22 L344.73,475.22 L345.53,475.22 L346.33,475.22 L347.13,475.22 L347.93,475.22 L348.73,475.22 L349.53,475.22 L350.33,475.21 L351.13,475.21 L351.93,475.21 L352.73,475.21 L353.53,475.21 L354.33,475.21 L355.12,475.21 L355.92,475.21 L356.72,475.21 L357.52,475.21 L358.32,475.22 L359.12,475.22 L359.92,475.22 L360.72,475.22 L361.52,475.22 L362.32,475.22 L363.12,475.22 L363.92,475.22 L364.72,475.22 L365.52,475.22 L366.32,475.22 L367.12,475.22 L367.92,475.22 L368.72,475.22 L369.52,475.23 L370.32,475.23 L371.12,475.23 L371.92,475.23 L372.72,475.23 L373.52,475.23 L374.32,475.23 L375.11,475.23 L375.91,475.24 L376.71,475.24 L377.51,475.24 L378.31,475.24 L379.11,475.24 L379.91,475.24 L380.71,475.24 L381.51,475.25 L382.31,475.25 L383.11,475.25 L383.91,475.25 L384.71,475.25 L385.51,475.25 L386.31,475.25 L387.11,475.26 L387.91,475.26 L388.71,475.26 L389.51,475.26 L390.31,475.26 L391.11,475.27 L391.91,475.27 L392.71,475.27 L393.51,475.27 L394.30,475.27 L395.10,475.27 L395.90,475.28 L396.70,475.28 L397.50,475.28 L398.30,475.28 L399.10,475.28 L399.90,475.28 L400.70,475.29 L401.50,475.29 L402.30,475.29 L403.10,475.29 L403.90,475.29 L404.70,475.30 L405.50,475.30 L406.30,475.30 L407.10,475.30 L407.90,475.30 L408.70,475.30 L409.50,475.31 L410.30,475.31 L411.10,475.31 L411.90,475.31 L412.70,475.31 L413.49,475.31 L414.29,475.31 L415.09,475.32 L415.89,475.32 L416.69,475.32 L417.49,475.32 L418.29,475.32 L419.09,475.32 L419.89,475.32 L420.69,475.33 L421.49,475.33 L422.29,475.33 L423.09,475.33 L423.89,475.33 L424.69,475.33 L425.49,475.33 L426.29,475.33 L427.09,475.33 L427.89,475.34 L428.69,475.34 L429.49,475.34 L430.29,475.34 L431.09,475.34 L431.89,475.34 L432.68,475.34 L433.48,475.34 L434.28,475.34 L435.08,475.34 L435.88,475.34 L436.68,475.35 L437.48,475.35 L438.28,475.35 L439.08,475.35 L439.88,475.35 L440.68,475.35 L441.48,475.35 L442.28,475.35 L443.08,475.35 L443.88,475.35 L444.68,475.35 L445.48,475.35 L446.28,475.35 L447.08,475.35 L447.88,475.35 L448.68,475.35 L449.48,475.35 L450.28,475.35 L451.08,475.35 L451.87,475.35 L452.67,475.36 L453.47,475.36 L454.27,475.36 L455.07,475.36 L455.87,475.36 L456.67,475.36 L457.47,475.36 L458.27,475.36 L459.07,475.36 L459.87,475.36 L460.67,475.36 L461.47,475.36 L462.27,475.36 L463.07,475.36 L463.87,475.36 L464.67,475.36 L465.47,475.36 L466.27,475.36 L467.07,475.36 L467.87,475.36 L468.67,475.36 L469.47,475.36 L470.27,475.36 L471.06,475.36 L471.86,475.36 L472.66,475.36 L473.46,475.36 L474.26,475.36 L475.06,475.36 L475.86,475.36 L476.66,475.36 L477.46,475.36 L478.26,475.36 L479.06,475.36 L479.86,475.36 L480.66,475.36 L481.46,475.36 L482.26,475.36 L483.06,475.36 L483.86,475.36 L484.66,475.36 L485.46,475.36 L486.26,475.36 L487.06,475.36 L487.86,475.36 L488.66,475.36 L489.46,475.36 L490.25,475.36 L491.05,475.36 L491.85,475.36 L492.65,475.35 L493.45,475.35 L494.25,475.35 L495.05,475.35 L495.85,475.35 L496.65,475.35 L497.45,475.35 L498.25,475.35 L499.05,475.35 L499.85,475.35 L500.65,475.35 L501.45,475.35 L502.25,475.35 L503.05,475.35 L503.85,475.35 L504.65,475.35 L505.45,475.35 L506.25,475.35 L507.05,475.35 L507.85,475.35 L508.65,475.35 L509.44,475.35 L510.24,475.35 L511.04,475.35 L511.84,475.35 L512.64,475.35 L513.44,475.35 L514.24,475.35 L515.04,475.35 L515.84,475.35 L516.64,475.35 L517.44,475.35 L518.24,475.35 L519.04,475.35 L519.84,475.35 L520.64,475.35 L521.44,475.35 L522.24,475.35 L523.04,475.35 L523.84,475.35 L524.64,475.35 L525.44,475.35 L526.24,475.35 L527.04,475.35 L527.83,475.35 L528.63,475.35 L529.43,475.35 L530.23,475.35 L531.03,475.35 L531.83,475.35 L532.63,475.35 L533.43,475.35 L534.23,475.35 L535.03,475.35 L535.83,475.35 L536.63,475.35 L537.43,475.35 L538.23,475.35 L539.03,475.35 L539.83,475.35 L540.63,475.35 L541.43,475.35 L542.23,475.35 L543.03,475.35 L543.83,475.35 L544.63,475.35 L545.43,475.36 L546.23,475.36 L547.02,475.36 L547.82,475.36 L548.62,475.36 L549.42,475.36 L550.22,475.36 L551.02,475.36 L551.82,475.36 L552.62,475.36 L553.42,475.36 L554.22,475.36 L555.02,475.36 L555.82,475.36 L556.62,475.36 L557.42,475.36 L558.22,475.36 L559.02,475.37 L559.82,475.37 L560.62,475.37 L561.42,475.37 L562.22,475.37 L563.02,475.37 L563.82,475.37 L564.62,475.37 L565.42,475.37 L566.21,475.37 L567.01,475.37 L567.81,475.38 L568.61,475.38 L569.41,475.38 L570.21,475.38 L571.01,475.38 L571.81,475.38 L572.61,475.38 L573.41,475.38 L574.21,475.39 L575.01,475.39 L575.81,475.39 L576.61,475.39 L577.41,475.39 L578.21,475.39 L579.01,475.39 L579.81,475.40 L580.61,475.40 L581.41,475.40 L582.21,475.40 L583.01,475.40 L583.81,475.40 L584.61,475.41 L585.41,475.41 L586.20,475.41 L587.00,475.41 L587.80,475.41 L588.60,475.41 L589.40,475.42 L590.20,475.42 L591.00,475.42 L591.80,475.42 L592.60,475.42 L593.40,475.43 L594.20,475.43 L595.00,475.43" stroke="#0f6cb0" stroke-width="2.4"/>
<path d="M61.0,574.5 L62.0,574.9 L63.0,574.9 L64.0,574.7 L65.0,574.9 L66.0,574.9 L67.0,575.0 L68.0,575.1 L69.0,574.9 L70.0,574.9 L71.0,575.3 L72.0,575.2 L73.0,575.3 L74.0,575.0 L75.0,575.3 L76.0,575.4 L77.0,575.3 L77.9,575.6 L78.9,575.6 L79.9,575.3 L80.9,575.3 L81.9,575.6 L82.9,575.8 L83.9,575.6 L84.9,575.5 L85.9,575.7 L86.9,575.5 L87.9,575.6 L88.9,575.8 L89.9,575.8 L90.9,575.7 L91.9,575.8 L92.9,575.8 L93.9,575.9 L94.9,575.9 L95.9,575.8 L96.9,576.1 L97.9,576.0 L98.9,576.1 L99.9,575.9 L100.9,576.3 L101.9,576.3 L102.9,576.0 L103.9,576.1 L104.9,576.3 L105.9,576.3 L106.9,576.4 L107.9,576.2 L108.9,576.4 L109.9,576.3 L110.9,576.2 L111.9,576.3 L112.9,576.4 L113.9,576.4 L114.9,576.3 L115.9,576.3 L116.9,576.1 L117.9,576.2 L118.9,576.4 L119.9,576.3 L120.9,576.2 L121.9,576.3 L122.9,576.4 L123.9,576.4 L124.9,576.2 L125.9,576.3 L126.9,576.3 L127.9,576.4 L128.9,576.3 L129.9,576.2 L130.9,576.2 L131.9,576.0 L132.9,576.0 L133.9,576.3 L134.9,576.4 L135.9,576.2 L136.9,576.1 L137.9,576.0 L138.9,576.1 L139.9,576.3 L140.9,576.1 L141.9,576.0 L142.9,576.1 L143.9,575.8 L144.9,575.9 L145.8,576.1 L146.8,575.9 L147.8,575.8 L148.8,575.7 L149.8,575.8 L150.8,575.9 L151.8,575.5 L152.8,575.7 L153.8,575.7 L154.8,575.7 L155.8,575.6 L156.8,575.6 L157.8,575.4 L158.8,575.4 L159.8,575.3 L160.8,575.1 L161.8,575.4 L162.8,575.2 L163.8,575.0 L164.8,575.1 L165.8,575.1 L166.8,575.0 L167.8,575.0 L168.8,575.0 L169.8,575.1 L170.8,575.0 L171.8,574.9 L172.8,574.7 L173.8,574.8 L174.8,574.7 L175.8,574.8 L176.8,574.9 L177.8,574.7 L178.8,574.5 L179.7,574.3 L180.7,573.8 L181.7,573.7 L182.6,573.3 L183.5,572.6 L184.4,572.1 L185.3,571.6 L186.1,571.6 L187.0,570.7 L187.7,570.1 L188.5,569.8 L189.2,569.0 L189.9,568.1 L190.6,567.4 L191.3,567.0 L191.9,566.0 L192.5,565.3 L193.1,564.9 L193.7,563.9 L194.3,562.9 L194.9,562.3 L195.4,560.9 L196.0,560.5 L196.6,559.7 L197.1,558.5 L197.6,557.6 L198.2,557.7 L198.7,556.3 L199.3,555.1 L199.8,554.8 L200.4,554.2 L200.9,552.2 L201.5,551.4 L202.1,550.8 L202.7,550.8 L203.3,549.2 L203.9,549.2 L204.5,548.4 L205.2,547.4 L205.8,546.1 L206.4,546.7 L207.1,545.6 L207.7,544.4 L208.4,543.1 L209.1,543.1 L209.8,541.9 L210.4,541.5 L211.1,540.3 L211.8,540.2 L212.5,538.3 L213.2,538.1 L213.9,538.8 L214.6,537.9 L215.3,536.0 L216.0,536.5 L216.7,534.6 L217.5,535.3 L218.2,534.2 L218.9,532.8 L219.6,531.7 L220.3,530.5 L221.1,531.7 L221.8,529.2 L222.5,530.3 L223.3,529.9 L224.0,528.4 L224.8,526.8 L225.5,527.7 L226.3,527.3 L227.1,526.1 L227.8,525.0 L228.6,524.1 L229.4,523.5 L230.2,522.6 L231.1,523.1 L231.9,522.0 L232.7,520.9 L233.6,520.2 L234.4,520.9 L235.3,519.6 L236.2,519.6 L237.0,518.8 L237.9,519.5 L238.8,519.1 L239.7,516.7 L240.6,516.7 L241.5,516.5 L242.4,517.6 L243.4,516.7 L244.3,515.3 L245.2,514.6 L246.1,515.3 L247.1,515.2 L248.0,515.0 L248.9,513.4 L249.9,514.2 L250.8,513.4 L251.8,512.6 L252.7,513.4 L253.7,511.4 L254.6,512.2 L255.5,510.6 L256.5,510.5 L257.4,512.0 L258.4,510.3 L259.3,511.4 L260.3,511.0 L261.2,511.6 L262.2,510.6 L263.1,510.6 L264.1,510.7 L265.0,512.1 L265.9,511.8 L266.9,512.8 L267.8,513.0 L268.8,511.7 L269.7,513.0 L270.7,512.4 L271.6,512.6 L272.5,513.1 L273.5,515.3 L274.4,515.5 L275.4,516.0 L276.3,515.4 L277.3,516.4 L278.2,517.2 L279.2,516.6 L280.1,517.4 L281.1,517.0 L282.0,517.0 L283.0,517.7 L283.9,519.3 L284.9,518.8 L285.8,519.9 L286.8,519.1 L287.7,518.9 L288.6,520.3 L289.6,520.6 L290.5,519.1 L291.4,520.9 L292.4,519.9 L293.3,520.3 L294.2,522.4 L295.1,520.9 L296.0,521.8 L296.9,524.0 L297.8,523.3 L298.6,523.2 L299.5,523.9 L300.3,524.6 L301.2,526.4 L302.0,525.6 L302.8,528.0 L303.6,527.4 L304.4,529.3 L305.2,529.7 L306.0,528.8 L306.9,529.0 L307.7,529.7 L308.6,529.0 L309.6,530.2 L310.5,528.9 L311.3,529.1 L312.2,531.6 L313.0,530.6 L313.8,531.9 L314.6,532.2 L315.4,532.5 L316.2,532.5 L317.0,535.0 L317.8,535.7 L318.6,536.3 L319.4,535.0 L320.3,535.8 L321.1,537.2 L321.9,538.5 L322.8,538.1 L323.6,539.0 L324.5,539.4 L325.3,539.1 L326.2,540.2 L327.1,540.2 L328.0,540.5 L328.8,540.7 L329.7,541.6 L330.6,543.4 L331.5,542.8 L332.4,543.6 L333.3,544.1 L334.1,545.1 L335.0,544.5 L335.9,544.8 L336.8,545.3 L337.7,545.7 L338.6,547.1 L339.5,547.6 L340.4,547.1 L341.3,547.6 L342.2,548.4 L343.1,548.9 L343.9,549.4 L344.8,549.3 L345.7,549.4 L346.6,550.2 L347.5,550.4 L348.4,551.6 L349.3,551.3 L350.2,551.8 L351.1,553.0 L352.0,553.0 L352.9,554.1 L353.8,554.1 L354.7,555.1 L355.6,554.5 L356.5,555.4 L357.4,556.2 L358.3,555.7 L359.2,557.2 L360.1,556.6 L361.0,557.8 L362.0,558.4 L362.9,558.6 L363.8,558.4 L364.7,558.5 L365.7,559.3 L366.6,560.1 L367.5,559.8 L368.5,560.8 L369.4,560.3 L370.3,561.4 L371.3,560.8 L372.2,561.4 L373.2,562.3 L374.2,562.4 L375.1,562.8 L376.1,563.0 L377.1,563.1 L378.0,563.3 L379.0,563.1 L380.0,563.6 L380.9,563.6 L381.9,564.4 L382.8,564.6 L383.8,564.5 L384.7,564.7 L385.6,565.8 L386.6,566.1 L387.5,566.3 L388.3,566.7 L389.2,567.4 L390.1,567.6 L390.9,568.1 L391.8,568.6 L392.6,569.1 L393.5,569.4 L394.4,570.3 L395.3,570.6 L396.2,571.1 L397.1,571.1 L398.1,571.5 L399.1,571.6 L400.1,571.7 L401.1,571.8 L402.1,572.1 L403.1,571.8 L404.1,571.6 L405.1,571.5 L406.0,571.0 L407.0,570.6 L408.0,570.7 L409.0,570.5 L409.9,570.4 L410.9,570.3 L411.8,570.6 L412.8,570.8 L413.7,570.8 L414.6,571.3 L415.6,571.7 L416.5,571.9 L417.5,572.3 L418.4,572.7 L419.4,573.1 L420.4,573.3 L421.3,573.1 L422.3,573.5 L423.3,573.3 L424.3,573.3 L425.3,573.6 L426.3,573.8 L427.3,573.5 L428.3,573.8 L429.3,573.9 L430.3,573.6 L431.3,573.8 L432.3,573.9 L433.3,573.7 L434.3,573.9 L435.2,573.9 L436.2,573.9 L437.2,574.0 L438.2,574.1 L439.2,574.1 L440.2,574.0 L441.2,573.8 L442.2,573.8 L443.2,573.8 L444.2,574.0 L445.2,574.1 L446.2,573.8 L447.2,574.1 L448.2,574.2 L449.2,574.0 L450.2,574.1 L451.2,574.0 L452.2,574.3 L453.2,573.9 L454.2,574.4 L455.2,574.3 L456.2,574.3 L457.2,574.1 L458.2,574.5 L459.2,574.5 L460.2,574.1 L461.2,574.4 L462.2,574.5 L463.2,574.4 L464.2,574.4 L465.2,574.3 L466.2,574.6 L467.2,574.6 L468.2,574.4 L469.2,574.6 L470.2,574.4 L471.2,574.3 L472.2,574.4 L473.2,574.3 L474.2,574.7 L475.2,574.7 L476.2,574.4 L477.2,574.6 L478.2,574.5 L479.2,574.4 L480.2,574.5 L481.2,574.5 L482.2,574.8 L483.1,574.4 L484.1,574.5 L485.1,574.7 L486.1,574.5 L487.1,574.8 L488.1,574.8 L489.1,574.9 L490.1,574.6 L491.1,574.7 L492.1,574.8 L493.1,574.7 L494.1,574.8 L495.1,574.7 L496.1,574.9 L497.1,575.0 L498.1,575.0 L499.1,575.1 L500.1,574.9 L501.1,574.9 L502.1,575.1 L503.1,575.0 L504.1,575.0 L505.1,574.9 L506.1,574.9 L507.1,574.8 L508.1,575.1 L509.1,574.8 L510.1,575.1 L511.1,575.0 L512.1,575.2 L513.1,575.2 L514.1,575.3 L515.1,574.9 L516.1,575.1 L517.1,575.1 L518.1,575.0 L519.1,575.1 L520.1,575.1 L521.1,575.1 L522.1,574.9 L523.1,575.1 L524.1,575.1 L525.1,575.1 L526.1,575.1 L527.1,575.3 L528.1,575.3 L529.1,575.2 L530.1,575.3 L531.1,575.2 L532.1,575.1 L533.1,575.0 L534.1,575.2 L535.1,575.3 L536.1,575.4 L537.1,575.4 L538.1,575.3 L539.1,575.5 L540.1,575.3 L541.1,575.5 L542.1,575.3 L543.1,575.4 L544.1,575.5 L545.1,575.3 L546.1,575.2 L547.1,575.4 L548.1,575.4 L549.1,575.3 L550.1,575.2 L551.1,575.3 L552.1,575.4 L553.1,575.4 L554.1,575.6 L555.1,575.4 L556.1,575.5 L557.0,575.6 L558.0,575.5 L559.0,575.4 L560.0,575.5 L561.0,575.5 L562.0,575.5 L563.0,575.5 L564.0,575.4 L565.0,575.5 L566.0,575.5 L567.0,575.7 L568.0,575.6 L569.0,575.6 L570.0,575.6 L571.0,575.6 L572.0,575.5 L573.0,575.4 L574.0,575.4 L575.0,575.6 L576.0,575.7 L577.0,575.5 L578.0,575.4 L579.0,575.7 L580.0,575.5 L581.0,575.5 L582.0,575.3 L583.0,575.5 L584.0,575.6 L585.0,575.5 L586.0,575.5 L587.0,575.6 L588.0,575.4 L589.0,575.6 L590.0,575.7 L591.0,575.6 L592.0,575.5 L593.0,575.6 L594.0,575.6 L595.0,575.4" stroke="#0f8b3e" stroke-width="2.9"/>
<path d="M61.00,676.46 L61.80,676.46 L62.60,676.46 L63.40,676.47 L64.20,676.47 L65.00,676.47 L65.80,676.47 L66.60,676.47 L67.40,676.47 L68.20,676.48 L69.00,676.48 L69.80,676.48 L70.60,676.48 L71.40,676.48 L72.19,676.48 L72.99,676.48 L73.79,676.49 L74.59,676.49 L75.39,676.49 L76.19,676.49 L76.99,676.49 L77.79,676.49 L78.59,676.49 L79.39,676.49 L80.19,676.49 L80.99,676.49 L81.79,676.49 L82.59,676.49 L83.39,676.50 L84.19,676.50 L84.99,676.50 L85.79,676.50 L86.59,676.50 L87.38,676.50 L88.18,676.50 L88.98,676.50 L89.78,676.50 L90.58,676.50 L91.38,676.50 L92.18,676.50 L92.98,676.50 L93.78,676.50 L94.58,676.50 L95.38,676.50 L96.18,676.50 L96.98,676.50 L97.78,676.50 L98.58,676.50 L99.38,676.50 L100.18,676.50 L100.98,676.50 L101.78,676.50 L102.58,676.50 L103.38,676.50 L104.18,676.50 L104.97,676.49 L105.77,676.49 L106.57,676.49 L107.37,676.49 L108.17,676.49 L108.97,676.49 L109.77,676.49 L110.57,676.49 L111.37,676.49 L112.17,676.49 L112.97,676.49 L113.77,676.49 L114.57,676.49 L115.37,676.49 L116.17,676.48 L116.97,676.48 L117.77,676.48 L118.57,676.48 L119.37,676.48 L120.17,676.48 L120.97,676.48 L121.77,676.48 L122.57,676.48 L123.37,676.47 L124.17,676.47 L124.97,676.47 L125.76,676.47 L126.56,676.47 L127.36,676.47 L128.16,676.47 L128.96,676.47 L129.76,676.46 L130.56,676.46 L131.36,676.46 L132.16,676.46 L132.96,676.46 L133.76,676.46 L134.56,676.46 L135.36,676.46 L136.16,676.45 L136.96,676.45 L137.76,676.45 L138.56,676.45 L139.36,676.45 L140.16,676.45 L140.96,676.45 L141.76,676.44 L142.56,676.44 L143.36,676.44 L144.16,676.44 L144.96,676.44 L145.76,676.44 L146.56,676.43 L147.35,676.43 L148.15,676.43 L148.95,676.43 L149.75,676.43 L150.55,676.43 L151.35,676.43 L152.15,676.42 L152.95,676.42 L153.75,676.42 L154.55,676.42 L155.35,676.42 L156.15,676.42 L156.95,676.41 L157.75,676.41 L158.55,676.41 L159.35,676.41 L160.15,676.41 L160.95,676.41 L161.75,676.41 L162.55,676.40 L163.35,676.40 L164.15,676.40 L164.95,676.40 L165.75,676.40 L166.55,676.40 L167.35,676.39 L168.14,676.39 L168.94,676.39 L169.74,676.39 L170.54,676.39 L171.34,676.39 L172.14,676.39 L172.94,676.38 L173.74,676.38 L174.54,676.38 L175.34,676.38 L176.14,676.38 L176.94,676.38 L177.74,676.38 L178.54,676.37 L179.34,676.37 L180.14,676.37 L180.94,676.37 L181.74,676.37 L182.54,676.37 L183.34,676.37 L184.14,676.37 L184.94,676.36 L185.74,676.36 L186.54,676.36 L187.34,676.36 L188.13,676.36 L188.93,676.36 L189.73,676.36 L190.53,676.36 L191.33,676.36 L192.13,676.35 L192.93,676.35 L193.73,676.35 L194.53,676.35 L195.33,676.35 L196.13,676.35 L196.93,676.35 L197.73,676.35 L198.53,676.35 L199.33,676.35 L200.13,676.35 L200.93,676.34 L201.73,676.34 L202.53,676.34 L203.33,676.34 L204.13,676.34 L204.92,676.34 L205.72,676.34 L206.52,676.34 L207.32,676.34 L208.12,676.34 L208.92,676.34 L209.72,676.34 L210.52,676.34 L211.32,676.34 L212.12,676.34 L212.92,676.34 L213.72,676.34 L214.52,676.34 L215.32,676.34 L216.12,676.34 L216.92,676.34 L217.72,676.34 L218.52,676.34 L219.32,676.34 L220.11,676.34 L220.91,676.34 L221.71,676.34 L222.51,676.34 L223.31,676.34 L224.11,676.34 L224.91,676.34 L225.71,676.34 L226.51,676.34 L227.31,676.34 L228.11,676.34 L228.91,676.34 L229.71,676.34 L230.51,676.34 L231.31,676.34 L232.11,676.35 L232.90,676.35 L233.70,676.35 L234.50,676.35 L235.30,676.35 L236.10,676.35 L236.90,676.35 L237.70,676.35 L238.50,676.35 L239.30,676.35 L240.10,676.35 L240.90,676.35 L241.70,676.34 L242.50,676.34 L243.30,676.34 L244.10,676.34 L244.90,676.33 L245.70,676.33 L246.49,676.33 L247.29,676.32 L248.09,676.32 L248.89,676.31 L249.69,676.31 L250.49,676.30 L251.29,676.29 L252.09,676.29 L252.89,676.28 L253.69,676.27 L254.49,676.26 L255.29,676.25 L256.09,676.24 L256.89,676.23 L257.69,676.21 L258.49,676.20 L259.29,676.18 L260.09,676.17 L260.89,676.15 L261.69,676.14 L262.49,676.12 L263.29,676.10 L264.09,676.08 L264.89,676.06 L265.69,676.03 L266.49,676.01 L267.29,675.99 L268.09,675.96 L268.89,675.93 L269.69,675.91 L270.49,675.88 L271.29,675.85 L272.09,675.82 L272.89,675.78 L273.69,675.75 L274.49,675.71 L275.29,675.68 L276.09,675.64 L276.89,675.60 L277.69,675.55 L278.49,675.50 L279.29,675.44 L280.08,675.38 L280.88,675.31 L281.67,675.23 L282.46,675.14 L283.25,675.04 L284.03,674.93 L284.82,674.81 L285.59,674.67 L286.37,674.52 L287.14,674.36 L287.91,674.17 L288.67,673.97 L289.43,673.75 L290.18,673.51 L290.93,673.26 L291.68,672.98 L292.41,672.67 L293.15,672.35 L293.87,672.00 L294.59,671.63 L295.30,671.24 L296.00,670.82 L296.69,670.39 L297.37,669.94 L298.03,669.47 L298.69,668.98 L299.33,668.47 L299.95,667.95 L300.56,667.42 L301.15,666.87 L301.73,666.31 L302.28,665.73 L302.82,665.15 L303.34,664.55 L303.84,663.94 L304.33,663.32 L304.80,662.69 L305.25,662.05 L305.70,661.40 L306.13,660.74 L306.54,660.08 L306.95,659.40 L307.34,658.72 L307.72,658.03 L308.10,657.33 L308.46,656.62 L308.82,655.91 L309.17,655.20 L309.51,654.47 L309.84,653.75 L310.17,653.02 L310.49,652.28 L310.82,651.54 L311.13,650.79 L311.44,650.05 L311.75,649.30 L312.06,648.55 L312.36,647.79 L312.66,647.04 L312.96,646.28 L313.25,645.52 L313.54,644.77 L313.83,644.01 L314.11,643.25 L314.40,642.50 L314.68,641.74 L314.96,640.99 L315.23,640.24 L315.51,639.49 L315.78,638.75 L316.05,638.00 L316.32,637.26 L316.59,636.53 L316.85,635.79 L317.12,635.06 L317.38,634.33 L317.65,633.60 L317.91,632.87 L318.17,632.14 L318.44,631.40 L318.70,630.67 L318.96,629.93 L319.22,629.20 L319.48,628.46 L319.75,627.71 L320.01,626.96 L320.27,626.21 L320.54,625.45 L320.80,624.69 L321.07,623.92 L321.34,623.14 L321.61,622.36 L321.88,621.57 L322.15,620.77 L322.43,619.96 L322.71,619.15 L322.99,618.34 L323.29,617.53 L323.60,616.74 L323.94,615.98 L324.29,615.23 L324.67,614.53 L325.08,613.86 L325.53,613.24 L326.01,612.68 L326.54,612.17 L327.11,611.74 L327.74,611.37 L328.40,611.10 L329.10,610.96 L329.80,610.98 L330.48,611.17 L331.13,611.50 L331.74,611.93 L332.29,612.43 L332.79,613.00 L333.26,613.63 L333.68,614.30 L334.08,615.02 L334.45,615.77 L334.80,616.54 L335.14,617.34 L335.46,618.14 L335.79,618.94 L336.11,619.74 L336.44,620.53 L336.79,621.30 L337.13,622.05 L337.49,622.79 L337.86,623.52 L338.23,624.24 L338.60,624.94 L338.98,625.64 L339.37,626.33 L339.76,627.02 L340.15,627.69 L340.54,628.37 L340.94,629.04 L341.34,629.70 L341.74,630.37 L342.14,631.04 L342.54,631.71 L342.93,632.38 L343.33,633.05 L343.72,633.74 L344.11,634.42 L344.50,635.12 L344.89,635.82 L345.27,636.52 L345.65,637.24 L346.03,637.95 L346.41,638.67 L346.79,639.39 L347.17,640.11 L347.56,640.82 L347.95,641.54 L348.34,642.26 L348.74,642.97 L349.15,643.67 L349.56,644.37 L349.98,645.06 L350.42,645.75 L350.86,646.42 L351.31,647.08 L351.77,647.74 L352.24,648.38 L352.73,649.00 L353.23,649.62 L353.75,650.21 L354.27,650.80 L354.81,651.37 L355.37,651.93 L355.93,652.47 L356.50,653.01 L357.09,653.54 L357.68,654.06 L358.28,654.57 L358.89,655.08 L359.50,655.58 L360.12,656.07 L360.74,656.57 L361.37,657.06 L362.00,657.55 L362.64,658.03 L363.27,658.52 L363.91,659.00 L364.55,659.49 L365.20,659.97 L365.84,660.45 L366.49,660.93 L367.14,661.41 L367.80,661.88 L368.46,662.35 L369.12,662.81 L369.78,663.27 L370.45,663.72 L371.12,664.17 L371.79,664.62 L372.47,665.05 L373.15,665.49 L373.84,665.91 L374.53,666.33 L375.22,666.73 L375.91,667.14 L376.61,667.53 L377.32,667.91 L378.03,668.29 L378.74,668.65 L379.46,669.00 L380.18,669.35 L380.90,669.68 L381.64,670.00 L382.37,670.31 L383.11,670.62 L383.85,670.91 L384.59,671.19 L385.34,671.46 L386.09,671.73 L386.85,671.98 L387.61,672.22 L388.37,672.46 L389.13,672.69 L389.90,672.90 L390.66,673.11 L391.43,673.31 L392.21,673.51 L392.98,673.69 L393.75,673.87 L394.53,674.04 L395.31,674.20 L396.09,674.35 L396.87,674.50 L397.65,674.63 L398.43,674.77 L399.21,674.89 L399.99,675.01 L400.78,675.12 L401.56,675.23 L402.35,675.33 L403.14,675.42 L403.93,675.51 L404.71,675.59 L405.50,675.67 L406.30,675.74 L407.09,675.80 L407.88,675.86 L408.67,675.92 L409.46,675.97 L410.26,676.02 L411.05,676.06 L411.85,676.10 L412.64,676.14 L413.44,676.17 L414.24,676.19 L415.04,676.22 L415.83,676.24 L416.63,676.26 L417.43,676.27 L418.23,676.28 L419.03,676.29 L419.83,676.30 L420.63,676.31 L421.43,676.31 L422.23,676.31 L423.03,676.31 L423.83,676.31 L424.63,676.30 L425.44,676.30 L426.24,676.29 L427.04,676.28 L427.84,676.28 L428.64,676.27 L429.44,676.26 L430.25,676.25 L431.05,676.24 L431.85,676.23 L432.65,676.22 L433.45,676.22 L434.26,676.21 L435.06,676.20 L435.86,676.19 L436.66,676.18 L437.46,676.18 L438.26,676.17 L439.07,676.16 L439.87,676.16 L440.67,676.15 L441.47,676.14 L442.27,676.14 L443.07,676.13 L443.87,676.13 L444.67,676.12 L445.47,676.11 L446.28,676.11 L447.08,676.10 L447.88,676.10 L448.68,676.09 L449.48,676.09 L450.28,676.09 L451.08,676.08 L451.88,676.08 L452.68,676.07 L453.48,676.07 L454.28,676.07 L455.08,676.06 L455.88,676.06 L456.68,676.06 L457.49,676.05 L458.29,676.05 L459.09,676.05 L459.89,676.04 L460.69,676.04 L461.49,676.04 L462.29,676.04 L463.09,676.04 L463.89,676.03 L464.69,676.03 L465.49,676.03 L466.29,676.03 L467.09,676.03 L467.89,676.03 L468.69,676.03 L469.49,676.02 L470.29,676.02 L471.09,676.02 L471.89,676.02 L472.69,676.02 L473.49,676.02 L474.29,676.02 L475.09,676.02 L475.89,676.02 L476.68,676.02 L477.48,676.02 L478.28,676.02 L479.08,676.02 L479.88,676.02 L480.68,676.02 L481.48,676.02 L482.28,676.02 L483.08,676.02 L483.88,676.02 L484.68,676.03 L485.48,676.03 L486.28,676.03 L487.08,676.03 L487.88,676.03 L488.68,676.03 L489.48,676.03 L490.27,676.03 L491.07,676.04 L491.87,676.04 L492.67,676.04 L493.47,676.04 L494.27,676.04 L495.07,676.04 L495.87,676.05 L496.67,676.05 L497.47,676.05 L498.27,676.05 L499.07,676.05 L499.87,676.06 L500.66,676.06 L501.46,676.06 L502.26,676.06 L503.06,676.07 L503.86,676.07 L504.66,676.07 L505.46,676.07 L506.26,676.08 L507.06,676.08 L507.86,676.08 L508.65,676.08 L509.45,676.09 L510.25,676.09 L511.05,676.09 L511.85,676.09 L512.65,676.10 L513.45,676.10 L514.25,676.10 L515.05,676.10 L515.85,676.11 L516.64,676.11 L517.44,676.11 L518.24,676.11 L519.04,676.12 L519.84,676.12 L520.64,676.12 L521.44,676.13 L522.24,676.13 L523.04,676.13 L523.84,676.13 L524.63,676.14 L525.43,676.14 L526.23,676.14 L527.03,676.14 L527.83,676.15 L528.63,676.15 L529.43,676.15 L530.23,676.16 L531.03,676.16 L531.83,676.16 L532.62,676.16 L533.42,676.17 L534.22,676.17 L535.02,676.17 L535.82,676.17 L536.62,676.17 L537.42,676.18 L538.22,676.18 L539.02,676.18 L539.82,676.18 L540.62,676.19 L541.42,676.19 L542.21,676.19 L543.01,676.19 L543.81,676.19 L544.61,676.20 L545.41,676.20 L546.21,676.20 L547.01,676.20 L547.81,676.20 L548.61,676.20 L549.41,676.21 L550.21,676.21 L551.01,676.21 L551.81,676.21 L552.61,676.21 L553.41,676.21 L554.21,676.21 L555.01,676.21 L555.80,676.21 L556.60,676.21 L557.40,676.22 L558.20,676.22 L559.00,676.22 L559.80,676.22 L560.60,676.22 L561.40,676.22 L562.20,676.22 L563.00,676.22 L563.80,676.22 L564.60,676.22 L565.40,676.22 L566.20,676.22 L567.00,676.22 L567.80,676.22 L568.60,676.21 L569.40,676.21 L570.20,676.21 L571.00,676.21 L571.80,676.21 L572.60,676.21 L573.40,676.21 L574.20,676.21 L575.00,676.20 L575.80,676.20 L576.60,676.20 L577.40,676.20 L578.21,676.20 L579.01,676.19 L579.81,676.19 L580.61,676.19 L581.41,676.18 L582.21,676.18 L583.01,676.18 L583.81,676.18 L584.61,676.17 L585.41,676.17 L586.21,676.16 L587.01,676.16 L587.81,676.16 L588.62,676.15 L589.42,676.15 L590.22,676.14 L591.02,676.14 L591.82,676.13 L592.62,676.13 L593.42,676.12 L594.22,676.12 L595.03,676.11" stroke="#d8121c" stroke-width="3"/>
</g>
<line x1="454.3" y1="450.7" x2="503" y2="450.7" stroke="#0f6cb0" stroke-width="2.5"/>
<text x="508" y="457.0" font-size="21.2" fill="#222" stroke="#222" stroke-width="0.28">CsPbBr<tspan font-size="11" dx="0.8" dy="8.6">3</tspan></text>
<line x1="454.3" y1="550.2" x2="503" y2="550.2" stroke="#1a9048" stroke-width="2.5"/>
<text x="508" y="556.5" font-size="21.2" fill="#222" stroke="#222" stroke-width="0.28">CsGeBr<tspan font-size="11" dx="0.8" dy="8.6">3</tspan></text>
<line x1="454.3" y1="652.7" x2="503" y2="652.7" stroke="#dc1c24" stroke-width="2.5"/>
<text x="508" y="659.0" font-size="21.2" fill="#222" stroke="#222" stroke-width="0.28">CsSnBr<tspan font-size="11" dx="0.8" dy="8.6">3</tspan></text>
<rect x="60.7" y="391.5" width="534.7" height="301.8" fill="none" stroke="#111" stroke-width="2"/>
<line x1="60.7" y1="693.3" x2="60.7" y2="698.8" stroke="#111" stroke-width="2"/>
<line x1="101.8" y1="693.3" x2="101.8" y2="702.3" stroke="#111" stroke-width="2"/>
<text x="101.8" y="718" font-size="19.5" fill="#222" stroke="#222" stroke-width="0.28" text-anchor="middle">400</text>
<line x1="143.0" y1="693.3" x2="143.0" y2="698.8" stroke="#111" stroke-width="2"/>
<line x1="184.1" y1="693.3" x2="184.1" y2="702.3" stroke="#111" stroke-width="2"/>
<text x="184.1" y="718" font-size="19.5" fill="#222" stroke="#222" stroke-width="0.28" text-anchor="middle">500</text>
<line x1="225.2" y1="693.3" x2="225.2" y2="698.8" stroke="#111" stroke-width="2"/>
<line x1="266.4" y1="693.3" x2="266.4" y2="702.3" stroke="#111" stroke-width="2"/>
<text x="266.4" y="718" font-size="19.5" fill="#222" stroke="#222" stroke-width="0.28" text-anchor="middle">600</text>
<line x1="307.5" y1="693.3" x2="307.5" y2="698.8" stroke="#111" stroke-width="2"/>
<line x1="348.6" y1="693.3" x2="348.6" y2="702.3" stroke="#111" stroke-width="2"/>
<text x="348.6" y="718" font-size="19.5" fill="#222" stroke="#222" stroke-width="0.28" text-anchor="middle">700</text>
<line x1="389.7" y1="693.3" x2="389.7" y2="698.8" stroke="#111" stroke-width="2"/>
<line x1="430.9" y1="693.3" x2="430.9" y2="702.3" stroke="#111" stroke-width="2"/>
<text x="430.9" y="718" font-size="19.5" fill="#222" stroke="#222" stroke-width="0.28" text-anchor="middle">800</text>
<line x1="472.0" y1="693.3" x2="472.0" y2="698.8" stroke="#111" stroke-width="2"/>
<line x1="513.1" y1="693.3" x2="513.1" y2="702.3" stroke="#111" stroke-width="2"/>
<text x="513.1" y="718" font-size="19.5" fill="#222" stroke="#222" stroke-width="0.28" text-anchor="middle">900</text>
<line x1="554.3" y1="693.3" x2="554.3" y2="698.8" stroke="#111" stroke-width="2"/>
<line x1="595.4" y1="693.3" x2="595.4" y2="702.3" stroke="#111" stroke-width="2"/>
<text x="595.4" y="718" font-size="19.5" fill="#222" stroke="#222" stroke-width="0.28" text-anchor="middle">1000</text>
<text x="298.5" y="743.7" font-size="21.5" fill="#222" stroke="#222" stroke-width="0.28"><tspan font-family="Liberation Serif" font-style="italic">λ</tspan> (nm)</text>
<text transform="translate(38.6,540) rotate(-90)" font-size="21" fill="#222" stroke="#222" stroke-width="0.28" text-anchor="middle">Intensity</text>
<text x="17.6" y="403.4" font-size="28" letter-spacing="0.9" fill="#111" stroke="#111" stroke-width="0.28">(b)</text>
</g></svg>
</body></html>
